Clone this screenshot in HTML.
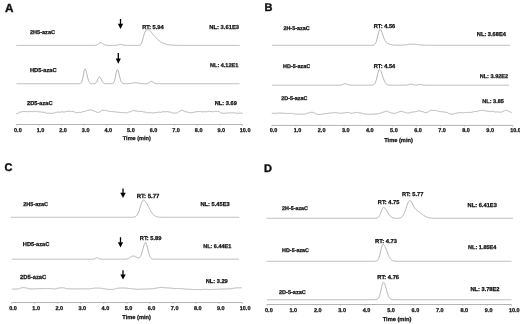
<!DOCTYPE html>
<html><head><meta charset="utf-8"><style>
html,body{margin:0;padding:0;background:#fff;}
svg{display:block;font-family:"Liberation Sans",sans-serif;filter:grayscale(1);text-rendering:geometricPrecision;}
</style></head><body>
<svg width="520" height="324" viewBox="0 0 520 324">
<rect width="520" height="324" fill="#fff"/>
<text x="4.90" y="12.40" font-size="11.75" text-anchor="start" font-weight="bold" fill="#111" stroke="#111" stroke-width="0.4" >A</text>
<text x="30.00" y="34.05" font-size="5.55" text-anchor="start" font-weight="bold" fill="#111" stroke="#111" stroke-width="0.25" >2H5-azaC</text>
<text x="142.20" y="28.80" font-size="5.7" text-anchor="start" font-weight="bold" fill="#111" stroke="#111" stroke-width="0.25" >RT: 5.94</text>
<text x="239.00" y="28.70" font-size="5.8" text-anchor="end" font-weight="bold" fill="#111" stroke="#111" stroke-width="0.25" >NL: 3.61E3</text>
<line x1="120.5" y1="19" x2="120.5" y2="24.3" stroke="#000" stroke-width="1.3"/>
<path d="M117.9,23.8 L123.1,23.8 L120.5,29 Z" fill="#000"/>
<path d="M16.5,45.40 L17.0,45.40 L17.5,45.40 L18.0,45.40 L18.5,45.40 L19.0,45.40 L19.5,45.40 L20.0,45.40 L20.5,45.40 L21.0,45.40 L21.5,45.40 L22.0,45.40 L22.5,45.40 L23.0,45.40 L23.5,45.40 L24.0,45.40 L24.5,45.40 L25.0,45.40 L25.5,45.40 L26.0,45.40 L26.5,45.40 L27.0,45.40 L27.5,45.40 L28.0,45.40 L28.5,45.40 L29.0,45.40 L29.5,45.40 L30.0,45.40 L30.5,45.40 L31.0,45.40 L31.5,45.40 L32.0,45.40 L32.5,45.40 L33.0,45.40 L33.5,45.40 L34.0,45.40 L34.5,45.40 L35.0,45.40 L35.5,45.40 L36.0,45.40 L36.5,45.40 L37.0,45.40 L37.5,45.40 L38.0,45.40 L38.5,45.40 L39.0,45.40 L39.5,45.40 L40.0,45.40 L40.5,45.40 L41.0,45.40 L41.5,45.40 L42.0,45.40 L42.5,45.40 L43.0,45.40 L43.5,45.40 L44.0,45.40 L44.5,45.40 L45.0,45.40 L45.5,45.40 L46.0,45.40 L46.5,45.40 L47.0,45.40 L47.5,45.40 L48.0,45.40 L48.5,45.40 L49.0,45.40 L49.5,45.40 L50.0,45.40 L50.5,45.40 L51.0,45.40 L51.5,45.40 L52.0,45.40 L52.5,45.40 L53.0,45.40 L53.5,45.40 L54.0,45.40 L54.5,45.40 L55.0,45.40 L55.5,45.40 L56.0,45.40 L56.5,45.40 L57.0,45.40 L57.5,45.40 L58.0,45.40 L58.5,45.40 L59.0,45.40 L59.5,45.40 L60.0,45.40 L60.5,45.40 L61.0,45.40 L61.5,45.40 L62.0,45.40 L62.5,45.40 L63.0,45.40 L63.5,45.40 L64.0,45.40 L64.5,45.40 L65.0,45.40 L65.5,45.40 L66.0,45.40 L66.5,45.40 L67.0,45.40 L67.5,45.40 L68.0,45.40 L68.5,45.40 L69.0,45.40 L69.5,45.40 L70.0,45.40 L70.5,45.40 L71.0,45.40 L71.5,45.40 L72.0,45.40 L72.5,45.40 L73.0,45.40 L73.5,45.40 L74.0,45.40 L74.5,45.40 L75.0,45.40 L75.5,45.40 L76.0,45.40 L76.5,45.40 L77.0,45.40 L77.5,45.40 L78.0,45.40 L78.5,45.40 L79.0,45.40 L79.5,45.40 L80.0,45.40 L80.5,45.40 L81.0,45.40 L81.5,45.40 L82.0,45.40 L82.5,45.40 L83.0,45.40 L83.5,45.40 L84.0,45.40 L84.5,45.40 L85.0,45.40 L85.5,45.40 L86.0,45.40 L86.5,45.40 L87.0,45.40 L87.5,45.40 L88.0,45.40 L88.5,45.40 L89.0,45.40 L89.5,45.40 L90.0,45.40 L90.5,45.40 L91.0,45.40 L91.5,45.40 L92.0,45.40 L92.5,45.40 L93.0,45.40 L93.5,45.39 L94.0,45.39 L94.5,45.37 L95.0,45.34 L95.5,45.28 L96.0,45.18 L96.5,45.02 L97.0,44.79 L97.5,44.49 L98.0,44.12 L98.5,43.70 L99.0,43.29 L99.5,42.93 L100.0,42.69 L100.5,42.60 L101.0,42.66 L101.5,42.83 L102.0,43.10 L102.5,43.42 L103.0,43.77 L103.5,44.12 L104.0,44.43 L104.5,44.70 L105.0,44.92 L105.5,45.08 L106.0,45.20 L106.5,45.28 L107.0,45.33 L107.5,45.36 L108.0,45.38 L108.5,45.39 L109.0,45.39 L109.5,45.40 L110.0,45.40 L110.5,45.40 L111.0,45.40 L111.5,45.40 L112.0,45.40 L112.5,45.40 L113.0,45.40 L113.5,45.40 L114.0,45.39 L114.5,45.39 L115.0,45.38 L115.5,45.36 L116.0,45.32 L116.5,45.26 L117.0,45.18 L117.5,45.08 L118.0,44.94 L118.5,44.79 L119.0,44.65 L119.5,44.52 L120.0,44.43 L120.5,44.40 L121.0,44.43 L121.5,44.52 L122.0,44.65 L122.5,44.79 L123.0,44.94 L123.5,45.08 L124.0,45.18 L124.5,45.26 L125.0,45.32 L125.5,45.36 L126.0,45.38 L126.5,45.39 L127.0,45.39 L127.5,45.40 L128.0,45.40 L128.5,45.40 L129.0,45.40 L129.5,45.40 L130.0,45.40 L130.5,45.40 L131.0,45.40 L131.5,45.40 L132.0,45.40 L132.5,45.40 L133.0,45.40 L133.5,45.40 L134.0,45.40 L134.5,45.40 L135.0,45.40 L135.5,45.40 L136.0,45.40 L136.5,45.40 L137.0,45.40 L137.5,45.40 L138.0,45.40 L138.5,45.38 L139.0,45.35 L139.5,45.25 L140.0,45.05 L140.5,44.68 L141.0,44.04 L141.5,43.09 L142.0,41.80 L142.5,40.22 L143.0,38.44 L143.5,36.60 L144.0,34.84 L144.5,33.30 L145.0,32.03 L145.5,31.08 L146.0,30.43 L146.5,30.03 L147.0,29.81 L147.5,29.72 L148.0,29.70 L148.5,29.72 L149.0,29.95 L149.5,30.32 L150.0,30.77 L150.5,31.28 L151.0,31.84 L151.5,32.42 L152.0,33.03 L152.5,33.65 L153.0,34.27 L153.5,34.90 L154.0,35.51 L154.5,36.12 L155.0,36.71 L155.5,37.29 L156.0,37.84 L156.5,38.38 L157.0,38.89 L157.5,39.38 L158.0,39.84 L158.5,40.28 L159.0,40.69 L159.5,41.08 L160.0,41.44 L160.5,41.78 L161.0,42.10 L161.5,42.40 L162.0,42.67 L162.5,42.92 L163.0,43.16 L163.5,43.37 L164.0,43.57 L164.5,43.75 L165.0,43.92 L165.5,44.07 L166.0,44.21 L166.5,44.33 L167.0,44.44 L167.5,44.55 L168.0,44.64 L168.5,44.72 L169.0,44.80 L169.5,44.87 L170.0,44.93 L170.5,44.98 L171.0,45.03 L171.5,45.07 L172.0,45.11 L172.5,45.15 L173.0,45.18 L173.5,45.20 L174.0,45.23 L174.5,45.25 L175.0,45.27 L175.5,45.29 L176.0,45.30 L176.5,45.31 L177.0,45.32 L177.5,45.33 L178.0,45.34 L178.5,45.35 L179.0,45.36 L179.5,45.36 L180.0,45.37 L180.5,45.37 L181.0,45.38 L181.5,45.38 L182.0,45.38 L182.5,45.38 L183.0,45.39 L183.5,45.39 L184.0,45.39 L184.5,45.39 L185.0,45.39 L185.5,45.39 L186.0,45.39 L186.5,45.40 L187.0,45.40 L187.5,45.40 L188.0,45.40 L188.5,45.40 L189.0,45.40 L189.5,45.40 L190.0,45.40 L190.5,45.40 L191.0,45.40 L191.5,45.40 L192.0,45.40 L192.5,45.40 L193.0,45.40 L193.5,45.40 L194.0,45.40 L194.5,45.40 L195.0,45.40 L195.5,45.40 L196.0,45.40 L196.5,45.40 L197.0,45.40 L197.5,45.40 L198.0,45.40 L198.5,45.40 L199.0,45.40 L199.5,45.40 L200.0,45.40 L200.5,45.40 L201.0,45.40 L201.5,45.40 L202.0,45.40 L202.5,45.40 L203.0,45.40 L203.5,45.40 L204.0,45.40 L204.5,45.40 L205.0,45.40 L205.5,45.40 L206.0,45.40 L206.5,45.40 L207.0,45.40 L207.5,45.40 L208.0,45.40 L208.5,45.40 L209.0,45.40 L209.5,45.40 L210.0,45.40 L210.5,45.40 L211.0,45.40 L211.5,45.40 L212.0,45.40 L212.5,45.40 L213.0,45.40 L213.5,45.40 L214.0,45.40 L214.5,45.40 L215.0,45.40 L215.5,45.40 L216.0,45.40 L216.5,45.40 L217.0,45.40 L217.5,45.40 L218.0,45.40 L218.5,45.40 L219.0,45.40 L219.5,45.40 L220.0,45.40 L220.5,45.40 L221.0,45.40 L221.5,45.40 L222.0,45.40 L222.5,45.40 L223.0,45.40 L223.5,45.40 L224.0,45.40 L224.5,45.40 L225.0,45.40 L225.5,45.40 L226.0,45.40 L226.5,45.40 L227.0,45.40 L227.5,45.40 L228.0,45.40 L228.5,45.40 L229.0,45.40 L229.5,45.40 L230.0,45.40 L230.5,45.40 L231.0,45.40 L231.5,45.40 L232.0,45.40 L232.5,45.40 L233.0,45.40 L233.5,45.40 L234.0,45.40 L234.5,45.40 L235.0,45.40 L235.5,45.40 L236.0,45.40 L236.5,45.40 L237.0,45.40 L237.5,45.40 L238.0,45.40 L238.5,45.40 L239.0,45.40 L239.5,45.40" fill="none" stroke="#b4b4b4" stroke-width="1.0" stroke-linejoin="round"/>
<text x="30.00" y="71.80" font-size="5.7" text-anchor="start" font-weight="bold" fill="#111" stroke="#111" stroke-width="0.25" >HD5-azaC</text>
<line x1="118.3" y1="53" x2="118.3" y2="59.099999999999994" stroke="#000" stroke-width="1.3"/>
<path d="M115.7,58.599999999999994 L120.89999999999999,58.599999999999994 L118.3,63.8 Z" fill="#000"/>
<text x="238.20" y="67.00" font-size="5.5" text-anchor="end" font-weight="bold" fill="#111" stroke="#111" stroke-width="0.25" >NL: 4.12E1</text>
<path d="M16.5,83.70 L17.0,83.70 L17.5,83.70 L18.0,83.70 L18.5,83.70 L19.0,83.70 L19.5,83.70 L20.0,83.70 L20.5,83.70 L21.0,83.70 L21.5,83.70 L22.0,83.70 L22.5,83.70 L23.0,83.70 L23.5,83.70 L24.0,83.70 L24.5,83.70 L25.0,83.70 L25.5,83.70 L26.0,83.70 L26.5,83.70 L27.0,83.70 L27.5,83.70 L28.0,83.70 L28.5,83.70 L29.0,83.70 L29.5,83.70 L30.0,83.70 L30.5,83.70 L31.0,83.70 L31.5,83.70 L32.0,83.70 L32.5,83.70 L33.0,83.70 L33.5,83.70 L34.0,83.70 L34.5,83.70 L35.0,83.70 L35.5,83.70 L36.0,83.70 L36.5,83.70 L37.0,83.70 L37.5,83.70 L38.0,83.70 L38.5,83.70 L39.0,83.70 L39.5,83.70 L40.0,83.70 L40.5,83.70 L41.0,83.70 L41.5,83.70 L42.0,83.70 L42.5,83.70 L43.0,83.70 L43.5,83.70 L44.0,83.70 L44.5,83.70 L45.0,83.70 L45.5,83.70 L46.0,83.70 L46.5,83.70 L47.0,83.70 L47.5,83.70 L48.0,83.70 L48.5,83.70 L49.0,83.70 L49.5,83.70 L50.0,83.70 L50.5,83.70 L51.0,83.70 L51.5,83.70 L52.0,83.70 L52.5,83.70 L53.0,83.70 L53.5,83.70 L54.0,83.70 L54.5,83.70 L55.0,83.70 L55.5,83.70 L56.0,83.70 L56.5,83.70 L57.0,83.70 L57.5,83.70 L58.0,83.70 L58.5,83.70 L59.0,83.70 L59.5,83.70 L60.0,83.70 L60.5,83.70 L61.0,83.70 L61.5,83.70 L62.0,83.70 L62.5,83.70 L63.0,83.70 L63.5,83.70 L64.0,83.70 L64.5,83.70 L65.0,83.70 L65.5,83.70 L66.0,83.70 L66.5,83.70 L67.0,83.70 L67.5,83.70 L68.0,83.70 L68.5,83.70 L69.0,83.70 L69.5,83.70 L70.0,83.70 L70.5,83.70 L71.0,83.70 L71.5,83.70 L72.0,83.70 L72.5,83.70 L73.0,83.70 L73.5,83.70 L74.0,83.70 L74.5,83.70 L75.0,83.70 L75.5,83.70 L76.0,83.70 L76.5,83.70 L77.0,83.70 L77.5,83.70 L78.0,83.70 L78.5,83.70 L79.0,83.69 L79.5,83.66 L80.0,83.59 L80.5,83.41 L81.0,83.05 L81.5,82.34 L82.0,81.13 L82.5,79.30 L83.0,76.88 L83.5,74.10 L84.0,71.44 L84.5,69.51 L85.0,68.80 L85.5,69.26 L86.0,70.55 L86.5,72.45 L87.0,74.66 L87.5,76.88 L88.0,78.86 L88.5,80.48 L89.0,81.68 L89.5,82.51 L90.0,83.05 L90.5,83.36 L91.0,83.53 L91.5,83.62 L92.0,83.67 L92.5,83.69 L93.0,83.69 L93.5,83.69 L94.0,83.67 L94.5,83.61 L95.0,83.49 L95.5,83.25 L96.0,82.81 L96.5,82.10 L97.0,81.10 L97.5,79.85 L98.0,78.54 L98.5,77.43 L99.0,76.78 L99.5,76.75 L100.0,77.18 L100.5,77.94 L101.0,78.93 L101.5,79.98 L102.0,80.98 L102.5,81.83 L103.0,82.49 L103.5,82.97 L104.0,83.28 L104.5,83.48 L105.0,83.59 L105.5,83.65 L106.0,83.68 L106.5,83.69 L107.0,83.70 L107.5,83.70 L108.0,83.70 L108.5,83.70 L109.0,83.70 L109.5,83.70 L110.0,83.70 L110.5,83.70 L111.0,83.69 L111.5,83.68 L112.0,83.64 L112.5,83.54 L113.0,83.32 L113.5,82.87 L114.0,82.03 L114.5,80.67 L115.0,78.72 L115.5,76.26 L116.0,73.64 L116.5,71.35 L117.0,69.94 L117.5,69.77 L118.0,70.53 L118.5,72.01 L119.0,73.94 L119.5,76.05 L120.0,78.07 L120.5,79.81 L121.0,81.17 L121.5,82.16 L122.0,82.81 L122.5,83.22 L123.0,83.46 L123.5,83.59 L124.0,83.65 L124.5,83.68 L125.0,83.69 L125.5,83.69 L126.0,83.69 L126.5,83.69 L127.0,83.68 L127.5,83.67 L128.0,83.66 L128.5,83.63 L129.0,83.60 L129.5,83.56 L130.0,83.51 L130.5,83.45 L131.0,83.38 L131.5,83.29 L132.0,83.19 L132.5,83.09 L133.0,82.99 L133.5,82.90 L134.0,82.82 L134.5,82.75 L135.0,82.71 L135.5,82.70 L136.0,82.71 L136.5,82.75 L137.0,82.82 L137.5,82.90 L138.0,82.99 L138.5,83.09 L139.0,83.19 L139.5,83.29 L140.0,83.38 L140.5,83.45 L141.0,83.51 L141.5,83.56 L142.0,83.60 L142.5,83.63 L143.0,83.66 L143.5,83.67 L144.0,83.68 L144.5,83.69 L145.0,83.69 L145.5,83.69 L146.0,83.69 L146.5,83.67 L147.0,83.63 L147.5,83.55 L148.0,83.40 L148.5,83.16 L149.0,82.81 L149.5,82.37 L150.0,81.90 L150.5,81.49 L151.0,81.24 L151.5,81.22 L152.0,81.38 L152.5,81.70 L153.0,82.10 L153.5,82.52 L154.0,82.89 L154.5,83.19 L155.0,83.40 L155.5,83.54 L156.0,83.62 L156.5,83.66 L157.0,83.68 L157.5,83.69 L158.0,83.70 L158.5,83.70 L159.0,83.70 L159.5,83.70 L160.0,83.70 L160.5,83.70 L161.0,83.70 L161.5,83.70 L162.0,83.70 L162.5,83.70 L163.0,83.70 L163.5,83.70 L164.0,83.70 L164.5,83.70 L165.0,83.70 L165.5,83.70 L166.0,83.70 L166.5,83.70 L167.0,83.70 L167.5,83.70 L168.0,83.70 L168.5,83.70 L169.0,83.70 L169.5,83.70 L170.0,83.70 L170.5,83.70 L171.0,83.70 L171.5,83.70 L172.0,83.70 L172.5,83.70 L173.0,83.70 L173.5,83.70 L174.0,83.70 L174.5,83.70 L175.0,83.70 L175.5,83.70 L176.0,83.70 L176.5,83.70 L177.0,83.70 L177.5,83.70 L178.0,83.70 L178.5,83.70 L179.0,83.70 L179.5,83.70 L180.0,83.70 L180.5,83.70 L181.0,83.70 L181.5,83.70 L182.0,83.70 L182.5,83.70 L183.0,83.70 L183.5,83.70 L184.0,83.70 L184.5,83.70 L185.0,83.70 L185.5,83.70 L186.0,83.70 L186.5,83.70 L187.0,83.70 L187.5,83.70 L188.0,83.70 L188.5,83.70 L189.0,83.70 L189.5,83.70 L190.0,83.70 L190.5,83.70 L191.0,83.70 L191.5,83.70 L192.0,83.70 L192.5,83.70 L193.0,83.70 L193.5,83.70 L194.0,83.70 L194.5,83.70 L195.0,83.70 L195.5,83.70 L196.0,83.70 L196.5,83.70 L197.0,83.70 L197.5,83.70 L198.0,83.70 L198.5,83.70 L199.0,83.70 L199.5,83.70 L200.0,83.70 L200.5,83.70 L201.0,83.70 L201.5,83.70 L202.0,83.70 L202.5,83.70 L203.0,83.70 L203.5,83.70 L204.0,83.70 L204.5,83.70 L205.0,83.70 L205.5,83.70 L206.0,83.70 L206.5,83.70 L207.0,83.70 L207.5,83.70 L208.0,83.70 L208.5,83.70 L209.0,83.70 L209.5,83.70 L210.0,83.70 L210.5,83.70 L211.0,83.70 L211.5,83.70 L212.0,83.70 L212.5,83.70 L213.0,83.70 L213.5,83.70 L214.0,83.70 L214.5,83.70 L215.0,83.70 L215.5,83.70 L216.0,83.70 L216.5,83.70 L217.0,83.70 L217.5,83.70 L218.0,83.70 L218.5,83.70 L219.0,83.70 L219.5,83.70 L220.0,83.70 L220.5,83.70 L221.0,83.70 L221.5,83.70 L222.0,83.70 L222.5,83.70 L223.0,83.70 L223.5,83.70 L224.0,83.70 L224.5,83.70 L225.0,83.70 L225.5,83.70 L226.0,83.70 L226.5,83.70 L227.0,83.70 L227.5,83.70 L228.0,83.70 L228.5,83.70 L229.0,83.70 L229.5,83.70 L230.0,83.70 L230.5,83.70 L231.0,83.70 L231.5,83.70 L232.0,83.70 L232.5,83.70 L233.0,83.70 L233.5,83.70 L234.0,83.70 L234.5,83.70 L235.0,83.70 L235.5,83.70 L236.0,83.70 L236.5,83.70 L237.0,83.70 L237.5,83.70 L238.0,83.70 L238.5,83.70 L239.0,83.70 L239.5,83.70" fill="none" stroke="#b4b4b4" stroke-width="1.0" stroke-linejoin="round"/>
<text x="27.00" y="105.00" font-size="5.7" text-anchor="start" font-weight="bold" fill="#111" stroke="#111" stroke-width="0.25" >2D5-azaC</text>
<text x="236.90" y="105.00" font-size="5.7" text-anchor="end" font-weight="bold" fill="#111" stroke="#111" stroke-width="0.25" >NL: 3.69</text>
<path d="M16.3,113.45 L16.8,113.49 L17.3,113.47 L17.8,113.41 L18.3,113.11 L18.8,112.78 L19.3,112.43 L19.8,112.29 L20.3,112.15 L20.8,112.03 L21.3,111.84 L21.8,111.70 L22.3,111.60 L22.8,111.58 L23.3,111.56 L23.8,111.55 L24.3,111.56 L24.8,111.57 L25.3,111.58 L25.8,111.60 L26.3,111.62 L26.8,111.64 L27.3,111.63 L27.8,111.62 L28.3,111.62 L28.8,111.63 L29.3,111.64 L29.8,111.65 L30.3,111.60 L30.8,111.56 L31.3,111.52 L31.8,111.56 L32.3,111.60 L32.8,111.64 L33.3,111.53 L33.8,111.43 L34.3,111.33 L34.8,111.46 L35.3,111.59 L35.8,111.73 L36.3,111.57 L36.8,111.42 L37.3,111.28 L37.8,111.45 L38.3,111.63 L38.8,111.81 L39.3,111.82 L39.8,111.84 L40.3,111.86 L40.8,111.97 L41.3,112.08 L41.8,112.19 L42.3,112.20 L42.8,112.20 L43.3,112.21 L43.8,112.31 L44.3,112.40 L44.8,112.50 L45.3,112.70 L45.8,112.90 L46.3,113.09 L46.8,113.18 L47.3,113.27 L47.8,113.36 L48.3,113.27 L48.8,113.17 L49.3,113.07 L49.8,113.16 L50.3,113.24 L50.8,113.31 L51.3,113.33 L51.8,113.35 L52.3,113.35 L52.8,113.31 L53.3,113.26 L53.8,113.20 L54.3,112.97 L54.8,112.74 L55.3,112.50 L55.8,112.41 L56.3,112.32 L56.8,112.23 L57.3,112.17 L57.8,112.12 L58.3,112.08 L58.8,112.16 L59.3,112.24 L59.8,112.33 L60.3,112.13 L60.8,111.95 L61.3,111.77 L61.8,111.82 L62.3,111.88 L62.8,111.93 L63.3,112.00 L63.8,112.05 L64.3,112.09 L64.8,111.93 L65.3,111.76 L65.8,111.59 L66.3,111.53 L66.8,111.48 L67.3,111.44 L67.8,111.31 L68.3,111.20 L68.8,111.10 L69.3,111.16 L69.8,111.25 L70.3,111.36 L70.8,111.43 L71.3,111.53 L71.8,111.64 L72.3,111.56 L72.8,111.50 L73.3,111.44 L73.8,111.70 L74.3,111.95 L74.8,112.21 L75.3,112.35 L75.8,112.49 L76.3,112.62 L76.8,112.64 L77.3,112.64 L77.8,112.63 L78.3,112.55 L78.8,112.46 L79.3,112.34 L79.8,112.41 L80.3,112.45 L80.8,112.48 L81.3,112.25 L81.8,112.01 L82.3,111.76 L82.8,111.70 L83.3,111.64 L83.8,111.57 L84.3,111.51 L84.8,111.46 L85.3,111.41 L85.8,111.14 L86.3,110.88 L86.8,110.63 L87.3,110.50 L87.8,110.40 L88.3,110.30 L88.8,110.19 L89.3,110.09 L89.8,110.02 L90.3,109.97 L90.8,109.93 L91.3,109.94 L91.8,110.14 L92.3,110.38 L92.8,110.67 L93.3,110.76 L93.8,110.88 L94.3,111.01 L94.8,111.26 L95.3,111.50 L95.8,111.73 L96.3,111.97 L96.8,112.18 L97.3,112.36 L97.8,112.36 L98.3,112.32 L98.8,112.21 L99.3,112.16 L99.8,112.00 L100.3,111.75 L100.8,111.27 L101.3,110.79 L101.8,110.37 L102.3,110.21 L102.8,110.18 L103.3,110.26 L103.8,110.30 L104.3,110.37 L104.8,110.45 L105.3,110.42 L105.8,110.39 L106.3,110.38 L106.8,110.56 L107.3,110.75 L107.8,110.94 L108.3,111.12 L108.8,111.29 L109.3,111.46 L109.8,111.51 L110.3,111.54 L110.8,111.55 L111.3,111.53 L111.8,111.49 L112.3,111.43 L112.8,111.53 L113.3,111.64 L113.8,111.75 L114.3,111.80 L114.8,111.86 L115.3,111.92 L115.8,111.93 L116.3,111.95 L116.8,111.97 L117.3,112.11 L117.8,112.25 L118.3,112.40 L118.8,112.39 L119.3,112.38 L119.8,112.37 L120.3,112.49 L120.8,112.62 L121.3,112.74 L121.8,112.64 L122.3,112.54 L122.8,112.43 L123.3,112.47 L123.8,112.50 L124.3,112.53 L124.8,112.69 L125.3,112.84 L125.8,112.98 L126.3,112.90 L126.8,112.79 L127.3,112.62 L127.8,112.45 L128.3,112.24 L128.8,112.00 L129.3,111.93 L129.8,111.85 L130.3,111.76 L130.8,111.42 L131.3,111.09 L131.8,110.78 L132.3,110.70 L132.8,110.67 L133.3,110.67 L133.8,110.65 L134.3,110.65 L134.8,110.69 L135.3,110.79 L135.8,110.91 L136.3,111.05 L136.8,111.11 L137.3,111.17 L137.8,111.22 L138.3,111.34 L138.8,111.44 L139.3,111.52 L139.8,111.47 L140.3,111.39 L140.8,111.33 L141.3,111.34 L141.8,111.37 L142.3,111.41 L142.8,111.61 L143.3,111.81 L143.8,112.02 L144.3,112.02 L144.8,112.03 L145.3,112.04 L145.8,112.25 L146.3,112.45 L146.8,112.66 L147.3,112.69 L147.8,112.71 L148.3,112.72 L148.8,112.77 L149.3,112.82 L149.8,112.84 L150.3,112.76 L150.8,112.67 L151.3,112.57 L151.8,112.73 L152.3,112.88 L152.8,113.03 L153.3,112.91 L153.8,112.79 L154.3,112.66 L154.8,112.65 L155.3,112.64 L155.8,112.63 L156.3,112.55 L156.8,112.47 L157.3,112.39 L157.8,112.31 L158.3,112.22 L158.8,112.14 L159.3,112.22 L159.8,112.30 L160.3,112.39 L160.8,112.27 L161.3,112.16 L161.8,112.04 L162.3,111.88 L162.8,111.73 L163.3,111.58 L163.8,111.66 L164.3,111.75 L164.8,111.85 L165.3,111.77 L165.8,111.69 L166.3,111.61 L166.8,111.64 L167.3,111.68 L167.8,111.72 L168.3,111.81 L168.8,111.93 L169.3,112.09 L169.8,112.08 L170.3,112.10 L170.8,112.14 L171.3,112.40 L171.8,112.66 L172.3,112.92 L172.8,113.00 L173.3,113.07 L173.8,113.12 L174.3,113.08 L174.8,113.01 L175.3,112.91 L175.8,113.06 L176.3,113.13 L176.8,113.12 L177.3,112.81 L177.8,112.46 L178.3,112.07 L178.8,111.78 L179.3,111.51 L179.8,111.28 L180.3,110.88 L180.8,110.56 L181.3,110.31 L181.8,110.30 L182.3,110.34 L182.8,110.42 L183.3,110.70 L183.8,111.01 L184.3,111.34 L184.8,111.49 L185.3,111.64 L185.8,111.80 L186.3,111.87 L186.8,111.92 L187.3,111.95 L187.8,112.22 L188.3,112.45 L188.8,112.64 L189.3,112.65 L189.8,112.65 L190.3,112.64 L190.8,112.65 L191.3,112.66 L191.8,112.67 L192.3,112.59 L192.8,112.51 L193.3,112.43 L193.8,112.26 L194.3,112.10 L194.8,111.93 L195.3,111.86 L195.8,111.79 L196.3,111.72 L196.8,111.67 L197.3,111.62 L197.8,111.58 L198.3,111.54 L198.8,111.51 L199.3,111.48 L199.8,111.50 L200.3,111.52 L200.8,111.55 L201.3,111.67 L201.8,111.79 L202.3,111.91 L202.8,111.84 L203.3,111.76 L203.8,111.69 L204.3,111.67 L204.8,111.66 L205.3,111.64 L205.8,111.68 L206.3,111.72 L206.8,111.76 L207.3,111.60 L207.8,111.44 L208.3,111.29 L208.8,111.31 L209.3,111.34 L209.8,111.37 L210.3,111.43 L210.8,111.49 L211.3,111.55 L211.8,111.63 L212.3,111.70 L212.8,111.78 L213.3,111.70 L213.8,111.62 L214.3,111.54 L214.8,111.43 L215.3,111.32 L215.8,111.21 L216.3,111.37 L216.8,111.52 L217.3,111.68 L217.8,111.57 L218.3,111.45 L218.8,111.41 L219.3,111.71 L219.8,112.11 L220.3,112.55 L220.8,112.78 L221.3,112.95 L221.8,113.01 L222.3,113.13 L222.8,113.22 L223.3,113.32 L223.8,113.29 L224.3,113.27 L224.8,113.25 L225.3,113.21 L225.8,113.17 L226.3,113.13 L226.8,113.05 L227.3,112.97 L227.8,112.88 L228.3,112.87 L228.8,112.85 L229.3,112.84 L229.8,112.85 L230.3,112.86 L230.8,112.87 L231.3,112.86 L231.8,112.84 L232.3,112.83 L232.8,112.84 L233.3,112.85 L233.8,112.86 L234.3,112.89 L234.8,112.92 L235.3,112.96 L235.8,113.07 L236.3,113.19 L236.8,113.31 L237.3,113.30 L237.8,113.29 L238.3,113.29 L238.8,113.20 L239.3,113.12 L239.8,113.03 L240.3,113.07 L240.8,113.10 L241.3,113.12 L241.8,113.31 L242.3,113.50 L242.8,113.68" fill="none" stroke="#b4b4b4" stroke-width="1.0" stroke-linejoin="round"/>
<line x1="16.3" y1="124.5" x2="242.3" y2="124.5" stroke="#b4b4b4" stroke-width="1.0"/>
<line x1="16.30" y1="124.5" x2="16.30" y2="125.7" stroke="#b4b4b4" stroke-width="0.9"/>
<text x="14.05" y="131.70" font-size="5.5" text-anchor="start" font-weight="bold" fill="#111" stroke="#111" stroke-width="0.25" >0.0</text>
<line x1="38.90" y1="124.5" x2="38.90" y2="125.7" stroke="#b4b4b4" stroke-width="0.9"/>
<text x="36.65" y="131.70" font-size="5.5" text-anchor="start" font-weight="bold" fill="#111" stroke="#111" stroke-width="0.25" >1.0</text>
<line x1="61.50" y1="124.5" x2="61.50" y2="125.7" stroke="#b4b4b4" stroke-width="0.9"/>
<text x="59.25" y="131.70" font-size="5.5" text-anchor="start" font-weight="bold" fill="#111" stroke="#111" stroke-width="0.25" >2.0</text>
<line x1="84.10" y1="124.5" x2="84.10" y2="125.7" stroke="#b4b4b4" stroke-width="0.9"/>
<text x="81.85" y="131.70" font-size="5.5" text-anchor="start" font-weight="bold" fill="#111" stroke="#111" stroke-width="0.25" >3.0</text>
<line x1="106.70" y1="124.5" x2="106.70" y2="125.7" stroke="#b4b4b4" stroke-width="0.9"/>
<text x="104.45" y="131.70" font-size="5.5" text-anchor="start" font-weight="bold" fill="#111" stroke="#111" stroke-width="0.25" >4.0</text>
<line x1="129.30" y1="124.5" x2="129.30" y2="125.7" stroke="#b4b4b4" stroke-width="0.9"/>
<text x="127.05" y="131.70" font-size="5.5" text-anchor="start" font-weight="bold" fill="#111" stroke="#111" stroke-width="0.25" >5.0</text>
<line x1="151.90" y1="124.5" x2="151.90" y2="125.7" stroke="#b4b4b4" stroke-width="0.9"/>
<text x="149.65" y="131.70" font-size="5.5" text-anchor="start" font-weight="bold" fill="#111" stroke="#111" stroke-width="0.25" >6.0</text>
<line x1="174.50" y1="124.5" x2="174.50" y2="125.7" stroke="#b4b4b4" stroke-width="0.9"/>
<text x="172.25" y="131.70" font-size="5.5" text-anchor="start" font-weight="bold" fill="#111" stroke="#111" stroke-width="0.25" >7.0</text>
<line x1="197.10" y1="124.5" x2="197.10" y2="125.7" stroke="#b4b4b4" stroke-width="0.9"/>
<text x="194.85" y="131.70" font-size="5.5" text-anchor="start" font-weight="bold" fill="#111" stroke="#111" stroke-width="0.25" >8.0</text>
<line x1="219.70" y1="124.5" x2="219.70" y2="125.7" stroke="#b4b4b4" stroke-width="0.9"/>
<text x="217.45" y="131.70" font-size="5.5" text-anchor="start" font-weight="bold" fill="#111" stroke="#111" stroke-width="0.25" >9.0</text>
<line x1="242.30" y1="124.5" x2="242.30" y2="125.7" stroke="#b4b4b4" stroke-width="0.9"/>
<text x="239.75" y="131.70" font-size="5.5" text-anchor="start" font-weight="bold" fill="#111" stroke="#111" stroke-width="0.25" >10.0</text>
<text x="122.80" y="140.20" font-size="5.55" text-anchor="start" font-weight="bold" fill="#111" stroke="#111" stroke-width="0.25" >Time (min)</text>
<text x="264.60" y="10.80" font-size="11" text-anchor="start" font-weight="bold" fill="#111" stroke="#111" stroke-width="0.4" >B</text>
<text x="283.40" y="30.10" font-size="5.45" text-anchor="start" font-weight="bold" fill="#111" stroke="#111" stroke-width="0.25" >2H-5-azaC</text>
<text x="373.75" y="27.50" font-size="5.7" text-anchor="start" font-weight="bold" fill="#111" stroke="#111" stroke-width="0.25" >RT: 4.56</text>
<text x="505.90" y="35.60" font-size="5.7" text-anchor="end" font-weight="bold" fill="#111" stroke="#111" stroke-width="0.25" >NL: 3.68E4</text>
<path d="M272.0,45.30 L272.5,45.30 L273.0,45.30 L273.5,45.30 L274.0,45.30 L274.5,45.30 L275.0,45.30 L275.5,45.30 L276.0,45.30 L276.5,45.30 L277.0,45.30 L277.5,45.30 L278.0,45.30 L278.5,45.30 L279.0,45.30 L279.5,45.30 L280.0,45.30 L280.5,45.30 L281.0,45.30 L281.5,45.30 L282.0,45.30 L282.5,45.30 L283.0,45.30 L283.5,45.30 L284.0,45.30 L284.5,45.30 L285.0,45.30 L285.5,45.30 L286.0,45.30 L286.5,45.30 L287.0,45.30 L287.5,45.30 L288.0,45.30 L288.5,45.30 L289.0,45.30 L289.5,45.30 L290.0,45.30 L290.5,45.30 L291.0,45.30 L291.5,45.30 L292.0,45.30 L292.5,45.30 L293.0,45.30 L293.5,45.30 L294.0,45.30 L294.5,45.30 L295.0,45.30 L295.5,45.30 L296.0,45.30 L296.5,45.30 L297.0,45.30 L297.5,45.30 L298.0,45.30 L298.5,45.30 L299.0,45.30 L299.5,45.30 L300.0,45.30 L300.5,45.30 L301.0,45.30 L301.5,45.30 L302.0,45.30 L302.5,45.30 L303.0,45.30 L303.5,45.30 L304.0,45.30 L304.5,45.30 L305.0,45.30 L305.5,45.30 L306.0,45.30 L306.5,45.30 L307.0,45.30 L307.5,45.30 L308.0,45.30 L308.5,45.30 L309.0,45.30 L309.5,45.30 L310.0,45.30 L310.5,45.30 L311.0,45.30 L311.5,45.30 L312.0,45.30 L312.5,45.30 L313.0,45.30 L313.5,45.30 L314.0,45.30 L314.5,45.30 L315.0,45.30 L315.5,45.30 L316.0,45.30 L316.5,45.30 L317.0,45.30 L317.5,45.30 L318.0,45.30 L318.5,45.30 L319.0,45.30 L319.5,45.30 L320.0,45.30 L320.5,45.30 L321.0,45.30 L321.5,45.30 L322.0,45.30 L322.5,45.30 L323.0,45.30 L323.5,45.30 L324.0,45.30 L324.5,45.30 L325.0,45.30 L325.5,45.30 L326.0,45.30 L326.5,45.30 L327.0,45.30 L327.5,45.30 L328.0,45.30 L328.5,45.30 L329.0,45.30 L329.5,45.30 L330.0,45.30 L330.5,45.30 L331.0,45.30 L331.5,45.30 L332.0,45.30 L332.5,45.30 L333.0,45.30 L333.5,45.30 L334.0,45.30 L334.5,45.30 L335.0,45.30 L335.5,45.30 L336.0,45.30 L336.5,45.30 L337.0,45.30 L337.5,45.30 L338.0,45.30 L338.5,45.30 L339.0,45.30 L339.5,45.30 L340.0,45.30 L340.5,45.30 L341.0,45.30 L341.5,45.30 L342.0,45.30 L342.5,45.30 L343.0,45.30 L343.5,45.30 L344.0,45.30 L344.5,45.30 L345.0,45.30 L345.5,45.30 L346.0,45.30 L346.5,45.30 L347.0,45.30 L347.5,45.30 L348.0,45.30 L348.5,45.30 L349.0,45.30 L349.5,45.30 L350.0,45.30 L350.5,45.30 L351.0,45.30 L351.5,45.30 L352.0,45.30 L352.5,45.30 L353.0,45.30 L353.5,45.30 L354.0,45.30 L354.5,45.30 L355.0,45.30 L355.5,45.30 L356.0,45.30 L356.5,45.30 L357.0,45.30 L357.5,45.30 L358.0,45.30 L358.5,45.30 L359.0,45.30 L359.5,45.30 L360.0,45.30 L360.5,45.30 L361.0,45.30 L361.5,45.30 L362.0,45.30 L362.5,45.30 L363.0,45.30 L363.5,45.30 L364.0,45.30 L364.5,45.30 L365.0,45.30 L365.5,45.30 L366.0,45.30 L366.5,45.30 L367.0,45.30 L367.5,45.30 L368.0,45.30 L368.5,45.30 L369.0,45.30 L369.5,45.30 L370.0,45.30 L370.5,45.30 L371.0,45.30 L371.5,45.29 L372.0,45.28 L372.5,45.25 L373.0,45.20 L373.5,45.10 L374.0,44.92 L374.5,44.61 L375.0,44.12 L375.5,43.37 L376.0,42.31 L376.5,40.89 L377.0,39.13 L377.5,37.09 L378.0,34.93 L378.5,32.87 L379.0,31.13 L379.5,29.94 L380.0,29.48 L380.5,29.65 L381.0,30.26 L381.5,31.27 L382.0,32.55 L382.5,34.02 L383.0,35.54 L383.5,37.03 L384.0,38.40 L384.5,39.60 L385.0,40.62 L385.5,41.46 L386.0,42.13 L386.5,42.66 L387.0,43.06 L387.5,43.38 L388.0,43.62 L388.5,43.83 L389.0,44.00 L389.5,44.16 L390.0,44.30 L390.5,44.44 L391.0,44.56 L391.5,44.67 L392.0,44.78 L392.5,44.87 L393.0,44.95 L393.5,45.02 L394.0,45.08 L394.5,45.13 L395.0,45.17 L395.5,45.20 L396.0,45.22 L396.5,45.24 L397.0,45.25 L397.5,45.26 L398.0,45.26 L398.5,45.26 L399.0,45.25 L399.5,45.25 L400.0,45.23 L400.5,45.22 L401.0,45.20 L401.5,45.18 L402.0,45.15 L402.5,45.12 L403.0,45.08 L403.5,45.04 L404.0,44.99 L404.5,44.94 L405.0,44.89 L405.5,44.83 L406.0,44.76 L406.5,44.70 L407.0,44.63 L407.5,44.57 L408.0,44.50 L408.5,44.44 L409.0,44.38 L409.5,44.33 L410.0,44.28 L410.5,44.25 L411.0,44.22 L411.5,44.21 L412.0,44.20 L412.5,44.20 L413.0,44.22 L413.5,44.23 L414.0,44.26 L414.5,44.29 L415.0,44.33 L415.5,44.37 L416.0,44.42 L416.5,44.47 L417.0,44.52 L417.5,44.58 L418.0,44.63 L418.5,44.69 L419.0,44.74 L419.5,44.80 L420.0,44.85 L420.5,44.90 L421.0,44.94 L421.5,44.99 L422.0,45.03 L422.5,45.06 L423.0,45.10 L423.5,45.12 L424.0,45.15 L424.5,45.17 L425.0,45.19 L425.5,45.21 L426.0,45.23 L426.5,45.24 L427.0,45.25 L427.5,45.26 L428.0,45.27 L428.5,45.27 L429.0,45.28 L429.5,45.28 L430.0,45.29 L430.5,45.29 L431.0,45.29 L431.5,45.29 L432.0,45.30 L432.5,45.30 L433.0,45.30 L433.5,45.30 L434.0,45.30 L434.5,45.30 L435.0,45.30 L435.5,45.30 L436.0,45.30 L436.5,45.30 L437.0,45.30 L437.5,45.30 L438.0,45.30 L438.5,45.30 L439.0,45.30 L439.5,45.30 L440.0,45.30 L440.5,45.30 L441.0,45.30 L441.5,45.30 L442.0,45.30 L442.5,45.30 L443.0,45.30 L443.5,45.30 L444.0,45.30 L444.5,45.30 L445.0,45.30 L445.5,45.30 L446.0,45.30 L446.5,45.30 L447.0,45.30 L447.5,45.30 L448.0,45.30 L448.5,45.30 L449.0,45.30 L449.5,45.30 L450.0,45.30 L450.5,45.30 L451.0,45.30 L451.5,45.30 L452.0,45.30 L452.5,45.30 L453.0,45.30 L453.5,45.30 L454.0,45.30 L454.5,45.30 L455.0,45.30 L455.5,45.30 L456.0,45.30 L456.5,45.30 L457.0,45.30 L457.5,45.30 L458.0,45.30 L458.5,45.30 L459.0,45.30 L459.5,45.30 L460.0,45.30 L460.5,45.30 L461.0,45.30 L461.5,45.30 L462.0,45.30 L462.5,45.30 L463.0,45.30 L463.5,45.30 L464.0,45.30 L464.5,45.30 L465.0,45.30 L465.5,45.30 L466.0,45.30 L466.5,45.30 L467.0,45.30 L467.5,45.30 L468.0,45.30 L468.5,45.30 L469.0,45.30 L469.5,45.30 L470.0,45.30 L470.5,45.30 L471.0,45.30 L471.5,45.30 L472.0,45.30 L472.5,45.30 L473.0,45.30 L473.5,45.30 L474.0,45.30 L474.5,45.30 L475.0,45.30 L475.5,45.30 L476.0,45.30 L476.5,45.30 L477.0,45.30 L477.5,45.30 L478.0,45.30 L478.5,45.30 L479.0,45.30 L479.5,45.30 L480.0,45.30 L480.5,45.30 L481.0,45.30 L481.5,45.30 L482.0,45.30 L482.5,45.30 L483.0,45.30 L483.5,45.30 L484.0,45.30 L484.5,45.30 L485.0,45.30 L485.5,45.30 L486.0,45.30 L486.5,45.30 L487.0,45.30 L487.5,45.30 L488.0,45.30 L488.5,45.30 L489.0,45.30 L489.5,45.30 L490.0,45.30 L490.5,45.30 L491.0,45.30 L491.5,45.30 L492.0,45.30 L492.5,45.30 L493.0,45.30 L493.5,45.30 L494.0,45.30 L494.5,45.30 L495.0,45.30 L495.5,45.30 L496.0,45.30 L496.5,45.30 L497.0,45.30 L497.5,45.30 L498.0,45.30 L498.5,45.30 L499.0,45.30 L499.5,45.30 L500.0,45.30 L500.5,45.30 L501.0,45.30 L501.5,45.30 L502.0,45.30 L502.5,45.30 L503.0,45.30 L503.5,45.30 L504.0,45.30 L504.5,45.30 L505.0,45.30 L505.5,45.30 L506.0,45.30 L506.5,45.30 L507.0,45.30 L507.5,45.30 L508.0,45.30 L508.5,45.30 L509.0,45.30 L509.5,45.30 L510.0,45.30" fill="none" stroke="#b4b4b4" stroke-width="1.0" stroke-linejoin="round"/>
<text x="283.10" y="67.60" font-size="5.45" text-anchor="start" font-weight="bold" fill="#111" stroke="#111" stroke-width="0.25" >HD-5-azaC</text>
<text x="373.75" y="67.50" font-size="5.7" text-anchor="start" font-weight="bold" fill="#111" stroke="#111" stroke-width="0.25" >RT: 4.54</text>
<text x="508.10" y="78.30" font-size="5.55" text-anchor="end" font-weight="bold" fill="#111" stroke="#111" stroke-width="0.25" >NL: 3.92E2</text>
<path d="M272.0,85.20 L272.5,85.20 L273.0,85.20 L273.5,85.20 L274.0,85.20 L274.5,85.20 L275.0,85.20 L275.5,85.20 L276.0,85.20 L276.5,85.20 L277.0,85.20 L277.5,85.20 L278.0,85.20 L278.5,85.20 L279.0,85.20 L279.5,85.20 L280.0,85.20 L280.5,85.20 L281.0,85.20 L281.5,85.20 L282.0,85.20 L282.5,85.20 L283.0,85.20 L283.5,85.20 L284.0,85.20 L284.5,85.20 L285.0,85.20 L285.5,85.20 L286.0,85.20 L286.5,85.20 L287.0,85.20 L287.5,85.20 L288.0,85.20 L288.5,85.20 L289.0,85.20 L289.5,85.20 L290.0,85.20 L290.5,85.20 L291.0,85.20 L291.5,85.20 L292.0,85.20 L292.5,85.20 L293.0,85.20 L293.5,85.20 L294.0,85.20 L294.5,85.20 L295.0,85.20 L295.5,85.20 L296.0,85.20 L296.5,85.20 L297.0,85.20 L297.5,85.20 L298.0,85.20 L298.5,85.20 L299.0,85.20 L299.5,85.20 L300.0,85.20 L300.5,85.20 L301.0,85.20 L301.5,85.20 L302.0,85.20 L302.5,85.20 L303.0,85.20 L303.5,85.20 L304.0,85.20 L304.5,85.20 L305.0,85.20 L305.5,85.20 L306.0,85.20 L306.5,85.20 L307.0,85.20 L307.5,85.20 L308.0,85.20 L308.5,85.20 L309.0,85.20 L309.5,85.20 L310.0,85.20 L310.5,85.20 L311.0,85.20 L311.5,85.20 L312.0,85.20 L312.5,85.20 L313.0,85.20 L313.5,85.20 L314.0,85.20 L314.5,85.20 L315.0,85.20 L315.5,85.20 L316.0,85.20 L316.5,85.20 L317.0,85.20 L317.5,85.20 L318.0,85.20 L318.5,85.20 L319.0,85.20 L319.5,85.20 L320.0,85.20 L320.5,85.20 L321.0,85.20 L321.5,85.20 L322.0,85.20 L322.5,85.20 L323.0,85.20 L323.5,85.20 L324.0,85.20 L324.5,85.20 L325.0,85.20 L325.5,85.20 L326.0,85.20 L326.5,85.20 L327.0,85.20 L327.5,85.20 L328.0,85.20 L328.5,85.20 L329.0,85.20 L329.5,85.20 L330.0,85.20 L330.5,85.20 L331.0,85.20 L331.5,85.20 L332.0,85.20 L332.5,85.20 L333.0,85.20 L333.5,85.20 L334.0,85.20 L334.5,85.20 L335.0,85.20 L335.5,85.20 L336.0,85.20 L336.5,85.20 L337.0,85.20 L337.5,85.20 L338.0,85.20 L338.5,85.20 L339.0,85.19 L339.5,85.19 L340.0,85.17 L340.5,85.13 L341.0,85.07 L341.5,84.97 L342.0,84.83 L342.5,84.63 L343.0,84.39 L343.5,84.14 L344.0,83.91 L344.5,83.76 L345.0,83.70 L345.5,83.74 L346.0,83.85 L346.5,84.01 L347.0,84.21 L347.5,84.41 L348.0,84.61 L348.5,84.78 L349.0,84.91 L349.5,85.01 L350.0,85.09 L350.5,85.13 L351.0,85.16 L351.5,85.18 L352.0,85.19 L352.5,85.20 L353.0,85.20 L353.5,85.20 L354.0,85.20 L354.5,85.20 L355.0,85.20 L355.5,85.20 L356.0,85.20 L356.5,85.20 L357.0,85.20 L357.5,85.20 L358.0,85.20 L358.5,85.20 L359.0,85.20 L359.5,85.20 L360.0,85.20 L360.5,85.20 L361.0,85.20 L361.5,85.20 L362.0,85.20 L362.5,85.20 L363.0,85.20 L363.5,85.20 L364.0,85.20 L364.5,85.20 L365.0,85.20 L365.5,85.20 L366.0,85.20 L366.5,85.20 L367.0,85.20 L367.5,85.20 L368.0,85.20 L368.5,85.20 L369.0,85.20 L369.5,85.20 L370.0,85.20 L370.5,85.20 L371.0,85.19 L371.5,85.18 L372.0,85.15 L372.5,85.10 L373.0,85.00 L373.5,84.82 L374.0,84.51 L374.5,84.01 L375.0,83.26 L375.5,82.19 L376.0,80.77 L376.5,79.00 L377.0,76.97 L377.5,74.81 L378.0,72.76 L378.5,71.04 L379.0,69.90 L379.5,69.50 L380.0,69.72 L380.5,70.35 L381.0,71.34 L381.5,72.63 L382.0,74.11 L382.5,75.68 L383.0,77.25 L383.5,78.75 L384.0,80.10 L384.5,81.29 L385.0,82.28 L385.5,83.08 L386.0,83.70 L386.5,84.17 L387.0,84.51 L387.5,84.75 L388.0,84.92 L388.5,85.03 L389.0,85.10 L389.5,85.14 L390.0,85.17 L390.5,85.18 L391.0,85.19 L391.5,85.19 L392.0,85.20 L392.5,85.20 L393.0,85.20 L393.5,85.20 L394.0,85.20 L394.5,85.20 L395.0,85.20 L395.5,85.20 L396.0,85.20 L396.5,85.20 L397.0,85.20 L397.5,85.20 L398.0,85.20 L398.5,85.20 L399.0,85.20 L399.5,85.20 L400.0,85.20 L400.5,85.20 L401.0,85.20 L401.5,85.20 L402.0,85.20 L402.5,85.20 L403.0,85.20 L403.5,85.20 L404.0,85.20 L404.5,85.19 L405.0,85.19 L405.5,85.18 L406.0,85.16 L406.5,85.12 L407.0,85.06 L407.5,84.98 L408.0,84.88 L408.5,84.74 L409.0,84.59 L409.5,84.45 L410.0,84.32 L410.5,84.23 L411.0,84.20 L411.5,84.23 L412.0,84.32 L412.5,84.44 L413.0,84.59 L413.5,84.74 L414.0,84.87 L414.5,84.97 L415.0,85.03 L415.5,85.06 L416.0,85.05 L416.5,85.00 L417.0,84.93 L417.5,84.83 L418.0,84.71 L418.5,84.60 L419.0,84.49 L419.5,84.42 L420.0,84.40 L420.5,84.42 L421.0,84.49 L421.5,84.60 L422.0,84.71 L422.5,84.83 L423.0,84.94 L423.5,85.03 L424.0,85.09 L424.5,85.14 L425.0,85.16 L425.5,85.18 L426.0,85.19 L426.5,85.20 L427.0,85.20 L427.5,85.20 L428.0,85.20 L428.5,85.20 L429.0,85.20 L429.5,85.20 L430.0,85.20 L430.5,85.20 L431.0,85.20 L431.5,85.20 L432.0,85.20 L432.5,85.20 L433.0,85.20 L433.5,85.20 L434.0,85.20 L434.5,85.20 L435.0,85.20 L435.5,85.20 L436.0,85.20 L436.5,85.20 L437.0,85.20 L437.5,85.20 L438.0,85.20 L438.5,85.20 L439.0,85.20 L439.5,85.20 L440.0,85.20 L440.5,85.20 L441.0,85.20 L441.5,85.20 L442.0,85.20 L442.5,85.20 L443.0,85.20 L443.5,85.20 L444.0,85.20 L444.5,85.20 L445.0,85.20 L445.5,85.20 L446.0,85.20 L446.5,85.20 L447.0,85.20 L447.5,85.20 L448.0,85.20 L448.5,85.20 L449.0,85.20 L449.5,85.20 L450.0,85.20 L450.5,85.20 L451.0,85.20 L451.5,85.20 L452.0,85.20 L452.5,85.20 L453.0,85.20 L453.5,85.20 L454.0,85.20 L454.5,85.20 L455.0,85.20 L455.5,85.20 L456.0,85.20 L456.5,85.20 L457.0,85.20 L457.5,85.20 L458.0,85.20 L458.5,85.20 L459.0,85.20 L459.5,85.20 L460.0,85.20 L460.5,85.20 L461.0,85.20 L461.5,85.20 L462.0,85.20 L462.5,85.20 L463.0,85.20 L463.5,85.20 L464.0,85.20 L464.5,85.20 L465.0,85.20 L465.5,85.20 L466.0,85.20 L466.5,85.20 L467.0,85.20 L467.5,85.20 L468.0,85.20 L468.5,85.20 L469.0,85.20 L469.5,85.20 L470.0,85.20 L470.5,85.20 L471.0,85.20 L471.5,85.20 L472.0,85.20 L472.5,85.20 L473.0,85.20 L473.5,85.20 L474.0,85.20 L474.5,85.20 L475.0,85.20 L475.5,85.20 L476.0,85.20 L476.5,85.20 L477.0,85.20 L477.5,85.20 L478.0,85.20 L478.5,85.20 L479.0,85.20 L479.5,85.20 L480.0,85.20 L480.5,85.20 L481.0,85.20 L481.5,85.20 L482.0,85.20 L482.5,85.20 L483.0,85.20 L483.5,85.20 L484.0,85.20 L484.5,85.20 L485.0,85.20 L485.5,85.20 L486.0,85.20 L486.5,85.20 L487.0,85.20 L487.5,85.20 L488.0,85.20 L488.5,85.20 L489.0,85.20 L489.5,85.20 L490.0,85.20 L490.5,85.20 L491.0,85.20 L491.5,85.20 L492.0,85.20 L492.5,85.20 L493.0,85.20 L493.5,85.20 L494.0,85.20 L494.5,85.20 L495.0,85.20 L495.5,85.20 L496.0,85.20 L496.5,85.20 L497.0,85.20 L497.5,85.20 L498.0,85.20 L498.5,85.20 L499.0,85.20 L499.5,85.20 L500.0,85.20 L500.5,85.20 L501.0,85.20 L501.5,85.20 L502.0,85.20 L502.5,85.20 L503.0,85.20 L503.5,85.20 L504.0,85.20 L504.5,85.20 L505.0,85.20 L505.5,85.20 L506.0,85.20 L506.5,85.20 L507.0,85.20 L507.5,85.20 L508.0,85.20 L508.5,85.20 L509.0,85.20" fill="none" stroke="#b4b4b4" stroke-width="1.0" stroke-linejoin="round"/>
<text x="281.20" y="99.70" font-size="5.45" text-anchor="start" font-weight="bold" fill="#111" stroke="#111" stroke-width="0.25" >2D-5-azaC</text>
<text x="503.90" y="102.50" font-size="5.55" text-anchor="end" font-weight="bold" fill="#111" stroke="#111" stroke-width="0.25" >NL: 3.85</text>
<path d="M271.8,113.46 L272.3,113.38 L272.8,113.29 L273.3,113.19 L273.8,113.28 L274.3,113.37 L274.8,113.45 L275.3,113.40 L275.8,113.35 L276.3,113.30 L276.8,113.27 L277.3,113.24 L277.8,113.21 L278.3,113.17 L278.8,113.14 L279.3,113.11 L279.8,113.08 L280.3,113.05 L280.8,113.03 L281.3,113.12 L281.8,113.22 L282.3,113.32 L282.8,113.28 L283.3,113.24 L283.8,113.21 L284.3,113.23 L284.8,113.26 L285.3,113.28 L285.8,113.37 L286.3,113.47 L286.8,113.56 L287.3,113.55 L287.8,113.54 L288.3,113.52 L288.8,113.44 L289.3,113.37 L289.8,113.31 L290.3,113.40 L290.8,113.50 L291.3,113.60 L291.8,113.56 L292.3,113.52 L292.8,113.49 L293.3,113.64 L293.8,113.80 L294.3,113.96 L294.8,114.01 L295.3,114.07 L295.8,114.12 L296.3,114.09 L296.8,114.06 L297.3,114.02 L297.8,114.13 L298.3,114.24 L298.8,114.34 L299.3,114.22 L299.8,114.10 L300.3,113.97 L300.8,114.08 L301.3,114.18 L301.8,114.28 L302.3,114.21 L302.8,114.12 L303.3,114.04 L303.8,114.10 L304.3,114.13 L304.8,114.14 L305.3,113.97 L305.8,113.79 L306.3,113.58 L306.8,113.43 L307.3,113.27 L307.8,113.11 L308.3,113.04 L308.8,112.97 L309.3,112.92 L309.8,112.72 L310.3,112.55 L310.8,112.40 L311.3,112.33 L311.8,112.29 L312.3,112.29 L312.8,112.39 L313.3,112.54 L313.8,112.73 L314.3,112.95 L314.8,113.20 L315.3,113.46 L315.8,113.72 L316.3,113.96 L316.8,114.19 L317.3,114.30 L317.8,114.37 L318.3,114.39 L318.8,114.51 L319.3,114.59 L319.8,114.64 L320.3,114.55 L320.8,114.45 L321.3,114.33 L321.8,114.23 L322.3,114.13 L322.8,114.02 L323.3,113.89 L323.8,113.76 L324.3,113.64 L324.8,113.64 L325.3,113.66 L325.8,113.70 L326.3,113.64 L326.8,113.59 L327.3,113.52 L327.8,113.40 L328.3,113.25 L328.8,113.09 L329.3,113.11 L329.8,113.12 L330.3,113.13 L330.8,113.08 L331.3,113.04 L331.8,113.00 L332.3,112.83 L332.8,112.67 L333.3,112.53 L333.8,112.58 L334.3,112.66 L334.8,112.75 L335.3,112.69 L335.8,112.64 L336.3,112.62 L336.8,112.76 L337.3,112.91 L337.8,113.05 L338.3,113.12 L338.8,113.17 L339.3,113.20 L339.8,113.25 L340.3,113.26 L340.8,113.25 L341.3,113.27 L341.8,113.28 L342.3,113.26 L342.8,113.11 L343.3,112.96 L343.8,112.81 L344.3,112.79 L344.8,112.79 L345.3,112.82 L345.8,112.70 L346.3,112.61 L346.8,112.54 L347.3,112.49 L347.8,112.45 L348.3,112.43 L348.8,112.58 L349.3,112.72 L349.8,112.87 L350.3,113.05 L350.8,113.21 L351.3,113.37 L351.8,113.31 L352.3,113.23 L352.8,113.13 L353.3,113.02 L353.8,112.90 L354.3,112.75 L354.8,112.72 L355.3,112.67 L355.8,112.63 L356.3,112.51 L356.8,112.40 L357.3,112.30 L357.8,112.45 L358.3,112.61 L358.8,112.80 L359.3,112.83 L359.8,112.88 L360.3,112.96 L360.8,113.03 L361.3,113.12 L361.8,113.22 L362.3,113.33 L362.8,113.45 L363.3,113.58 L363.8,113.77 L364.3,113.95 L364.8,114.13 L365.3,114.14 L365.8,114.13 L366.3,114.10 L366.8,114.18 L367.3,114.24 L367.8,114.28 L368.3,114.32 L368.8,114.35 L369.3,114.39 L369.8,114.33 L370.3,114.27 L370.8,114.21 L371.3,114.12 L371.8,114.02 L372.3,113.93 L372.8,114.08 L373.3,114.24 L373.8,114.39 L374.3,114.26 L374.8,114.12 L375.3,113.99 L375.8,113.99 L376.3,113.99 L376.8,114.00 L377.3,113.95 L377.8,113.87 L378.3,113.75 L378.8,113.62 L379.3,113.46 L379.8,113.28 L380.3,113.11 L380.8,112.93 L381.3,112.74 L381.8,112.61 L382.3,112.48 L382.8,112.37 L383.3,112.16 L383.8,111.97 L384.3,111.80 L384.8,111.61 L385.3,111.46 L385.8,111.34 L386.3,111.26 L386.8,111.21 L387.3,111.21 L387.8,111.49 L388.3,111.79 L388.8,112.13 L389.3,112.22 L389.8,112.33 L390.3,112.44 L390.8,112.72 L391.3,112.97 L391.8,113.21 L392.3,113.24 L392.8,113.24 L393.3,113.19 L393.8,113.34 L394.3,113.45 L394.8,113.51 L395.3,113.35 L395.8,113.16 L396.3,112.93 L396.8,112.76 L397.3,112.58 L397.8,112.38 L398.3,112.16 L398.8,111.94 L399.3,111.74 L399.8,111.58 L400.3,111.45 L400.8,111.35 L401.3,111.35 L401.8,111.40 L402.3,111.50 L402.8,111.70 L403.3,111.95 L403.8,112.23 L404.3,112.28 L404.8,112.33 L405.3,112.38 L405.8,112.62 L406.3,112.83 L406.8,113.00 L407.3,113.02 L407.8,112.98 L408.3,112.88 L408.8,112.91 L409.3,112.90 L409.8,112.86 L410.3,112.67 L410.8,112.49 L411.3,112.36 L411.8,112.21 L412.3,112.11 L412.8,111.99 L413.3,111.98 L413.8,111.94 L414.3,111.88 L414.8,111.81 L415.3,111.72 L415.8,111.64 L416.3,111.51 L416.8,111.38 L417.3,111.27 L417.8,111.07 L418.3,110.89 L418.8,110.74 L419.3,110.85 L419.8,110.99 L420.3,111.18 L420.8,111.25 L421.3,111.37 L421.8,111.51 L422.3,111.58 L422.8,111.65 L423.3,111.72 L423.8,112.05 L424.3,112.35 L424.8,112.62 L425.3,112.67 L425.8,112.67 L426.3,112.61 L426.8,112.51 L427.3,112.34 L427.8,112.12 L428.3,111.80 L428.8,111.46 L429.3,111.11 L429.8,110.77 L430.3,110.47 L430.8,110.21 L431.3,110.23 L431.8,110.31 L432.3,110.46 L432.8,110.41 L433.3,110.38 L433.8,110.37 L434.3,110.38 L434.8,110.41 L435.3,110.45 L435.8,110.52 L436.3,110.61 L436.8,110.70 L437.3,110.94 L437.8,111.18 L438.3,111.41 L438.8,111.42 L439.3,111.41 L439.8,111.40 L440.3,111.50 L440.8,111.59 L441.3,111.66 L441.8,111.71 L442.3,111.75 L442.8,111.77 L443.3,111.83 L443.8,111.93 L444.3,112.06 L444.8,112.14 L445.3,112.24 L445.8,112.36 L446.3,112.45 L446.8,112.55 L447.3,112.66 L447.8,112.93 L448.3,113.21 L448.8,113.47 L449.3,113.61 L449.8,113.73 L450.3,113.83 L450.8,113.93 L451.3,113.99 L451.8,114.03 L452.3,114.05 L452.8,114.06 L453.3,114.05 L453.8,113.91 L454.3,113.75 L454.8,113.58 L455.3,113.48 L455.8,113.37 L456.3,113.26 L456.8,113.15 L457.3,113.03 L457.8,112.92 L458.3,112.86 L458.8,112.82 L459.3,112.78 L459.8,112.68 L460.3,112.59 L460.8,112.51 L461.3,112.63 L461.8,112.75 L462.3,112.87 L462.8,112.79 L463.3,112.72 L463.8,112.64 L464.3,112.60 L464.8,112.56 L465.3,112.52 L465.8,112.49 L466.3,112.45 L466.8,112.42 L467.3,112.44 L467.8,112.46 L468.3,112.49 L468.8,112.47 L469.3,112.45 L469.8,112.43 L470.3,112.43 L470.8,112.40 L471.3,112.32 L471.8,112.22 L472.3,112.10 L472.8,111.97 L473.3,111.81 L473.8,111.66 L474.3,111.53 L474.8,111.48 L475.3,111.47 L475.8,111.51 L476.3,111.52 L476.8,111.52 L477.3,111.49 L477.8,111.22 L478.3,110.94 L478.8,110.65 L479.3,110.58 L479.8,110.52 L480.3,110.46 L480.8,110.46 L481.3,110.47 L481.8,110.51 L482.3,110.39 L482.8,110.30 L483.3,110.23 L483.8,110.42 L484.3,110.63 L484.8,110.86 L485.3,110.83 L485.8,110.80 L486.3,110.77 L486.8,110.98 L487.3,111.17 L487.8,111.35 L488.3,111.39 L488.8,111.40 L489.3,111.39 L489.8,111.43 L490.3,111.48 L490.8,111.53 L491.3,111.42 L491.8,111.31 L492.3,111.22 L492.8,111.32 L493.3,111.42 L493.8,111.53 L494.3,111.70 L494.8,111.87 L495.3,112.04 L495.8,111.99 L496.3,111.93 L496.8,111.87 L497.3,111.91 L497.8,111.94 L498.3,111.97 L498.8,112.06 L499.3,112.14 L499.8,112.21 L500.3,112.24 L500.8,112.22 L501.3,112.15 L501.8,111.90 L502.3,111.62 L502.8,111.32 L503.3,111.12 L503.8,110.93 L504.3,110.75 L504.8,110.59 L505.3,110.46 L505.8,110.37 L506.3,110.40 L506.8,110.48 L507.3,110.64 L507.8,110.86 L508.3,111.14 L508.8,111.46 L509.3,111.64 L509.8,111.82 L510.3,111.97 L510.8,112.29 L511.3,112.55 L511.8,112.73" fill="none" stroke="#b4b4b4" stroke-width="1.0" stroke-linejoin="round"/>
<line x1="271.9" y1="125.4" x2="512.7" y2="125.4" stroke="#b4b4b4" stroke-width="1.0"/>
<line x1="271.90" y1="125.4" x2="271.90" y2="126.60000000000001" stroke="#b4b4b4" stroke-width="0.9"/>
<text x="269.65" y="132.30" font-size="5.5" text-anchor="start" font-weight="bold" fill="#111" stroke="#111" stroke-width="0.25" >0.0</text>
<line x1="295.98" y1="125.4" x2="295.98" y2="126.60000000000001" stroke="#b4b4b4" stroke-width="0.9"/>
<text x="293.73" y="132.30" font-size="5.5" text-anchor="start" font-weight="bold" fill="#111" stroke="#111" stroke-width="0.25" >1.0</text>
<line x1="320.06" y1="125.4" x2="320.06" y2="126.60000000000001" stroke="#b4b4b4" stroke-width="0.9"/>
<text x="317.81" y="132.30" font-size="5.5" text-anchor="start" font-weight="bold" fill="#111" stroke="#111" stroke-width="0.25" >2.0</text>
<line x1="344.14" y1="125.4" x2="344.14" y2="126.60000000000001" stroke="#b4b4b4" stroke-width="0.9"/>
<text x="341.89" y="132.30" font-size="5.5" text-anchor="start" font-weight="bold" fill="#111" stroke="#111" stroke-width="0.25" >3.0</text>
<line x1="368.22" y1="125.4" x2="368.22" y2="126.60000000000001" stroke="#b4b4b4" stroke-width="0.9"/>
<text x="365.97" y="132.30" font-size="5.5" text-anchor="start" font-weight="bold" fill="#111" stroke="#111" stroke-width="0.25" >4.0</text>
<line x1="392.30" y1="125.4" x2="392.30" y2="126.60000000000001" stroke="#b4b4b4" stroke-width="0.9"/>
<text x="390.05" y="132.30" font-size="5.5" text-anchor="start" font-weight="bold" fill="#111" stroke="#111" stroke-width="0.25" >5.0</text>
<line x1="416.38" y1="125.4" x2="416.38" y2="126.60000000000001" stroke="#b4b4b4" stroke-width="0.9"/>
<text x="414.13" y="132.30" font-size="5.5" text-anchor="start" font-weight="bold" fill="#111" stroke="#111" stroke-width="0.25" >6.0</text>
<line x1="440.46" y1="125.4" x2="440.46" y2="126.60000000000001" stroke="#b4b4b4" stroke-width="0.9"/>
<text x="438.21" y="132.30" font-size="5.5" text-anchor="start" font-weight="bold" fill="#111" stroke="#111" stroke-width="0.25" >7.0</text>
<line x1="464.54" y1="125.4" x2="464.54" y2="126.60000000000001" stroke="#b4b4b4" stroke-width="0.9"/>
<text x="462.29" y="132.30" font-size="5.5" text-anchor="start" font-weight="bold" fill="#111" stroke="#111" stroke-width="0.25" >8.0</text>
<line x1="488.62" y1="125.4" x2="488.62" y2="126.60000000000001" stroke="#b4b4b4" stroke-width="0.9"/>
<text x="486.37" y="132.30" font-size="5.5" text-anchor="start" font-weight="bold" fill="#111" stroke="#111" stroke-width="0.25" >9.0</text>
<line x1="512.70" y1="125.4" x2="512.70" y2="126.60000000000001" stroke="#b4b4b4" stroke-width="0.9"/>
<text x="510.15" y="132.30" font-size="5.5" text-anchor="start" font-weight="bold" fill="#111" stroke="#111" stroke-width="0.25" >10.0</text>
<text x="384.20" y="142.10" font-size="5.7" text-anchor="start" font-weight="bold" fill="#111" stroke="#111" stroke-width="0.25" >Time (min)</text>
<text x="4.40" y="171.20" font-size="11" text-anchor="start" font-weight="bold" fill="#111" stroke="#111" stroke-width="0.4" >C</text>
<text x="23.30" y="206.30" font-size="5.5" text-anchor="start" font-weight="bold" fill="#111" stroke="#111" stroke-width="0.25" >2H5-azaC</text>
<line x1="123" y1="188.4" x2="123" y2="193.3" stroke="#000" stroke-width="1.3"/>
<path d="M120.25,192.8 L125.75,192.8 L123,198 Z" fill="#000"/>
<text x="136.70" y="197.90" font-size="6.0" text-anchor="start" font-weight="bold" fill="#111" stroke="#111" stroke-width="0.25" >RT: 5.77</text>
<text x="229.60" y="205.70" font-size="5.7" text-anchor="end" font-weight="bold" fill="#111" stroke="#111" stroke-width="0.25" >NL: 5.45E3</text>
<path d="M10.8,217.30 L11.3,217.30 L11.8,217.30 L12.3,217.30 L12.8,217.30 L13.3,217.30 L13.8,217.30 L14.3,217.30 L14.8,217.30 L15.3,217.30 L15.8,217.30 L16.3,217.30 L16.8,217.30 L17.3,217.30 L17.8,217.30 L18.3,217.30 L18.8,217.30 L19.3,217.30 L19.8,217.30 L20.3,217.30 L20.8,217.30 L21.3,217.30 L21.8,217.30 L22.3,217.30 L22.8,217.30 L23.3,217.30 L23.8,217.30 L24.3,217.30 L24.8,217.30 L25.3,217.30 L25.8,217.30 L26.3,217.30 L26.8,217.30 L27.3,217.30 L27.8,217.30 L28.3,217.30 L28.8,217.30 L29.3,217.30 L29.8,217.30 L30.3,217.30 L30.8,217.30 L31.3,217.30 L31.8,217.30 L32.3,217.30 L32.8,217.30 L33.3,217.30 L33.8,217.30 L34.3,217.30 L34.8,217.30 L35.3,217.30 L35.8,217.30 L36.3,217.30 L36.8,217.30 L37.3,217.30 L37.8,217.30 L38.3,217.30 L38.8,217.30 L39.3,217.30 L39.8,217.30 L40.3,217.30 L40.8,217.30 L41.3,217.30 L41.8,217.30 L42.3,217.30 L42.8,217.30 L43.3,217.30 L43.8,217.30 L44.3,217.30 L44.8,217.30 L45.3,217.30 L45.8,217.30 L46.3,217.30 L46.8,217.30 L47.3,217.30 L47.8,217.30 L48.3,217.30 L48.8,217.30 L49.3,217.30 L49.8,217.30 L50.3,217.30 L50.8,217.30 L51.3,217.30 L51.8,217.30 L52.3,217.30 L52.8,217.30 L53.3,217.30 L53.8,217.30 L54.3,217.30 L54.8,217.30 L55.3,217.30 L55.8,217.30 L56.3,217.30 L56.8,217.30 L57.3,217.30 L57.8,217.30 L58.3,217.30 L58.8,217.30 L59.3,217.30 L59.8,217.30 L60.3,217.30 L60.8,217.30 L61.3,217.30 L61.8,217.30 L62.3,217.30 L62.8,217.30 L63.3,217.30 L63.8,217.30 L64.3,217.30 L64.8,217.30 L65.3,217.30 L65.8,217.30 L66.3,217.30 L66.8,217.30 L67.3,217.30 L67.8,217.30 L68.3,217.30 L68.8,217.30 L69.3,217.30 L69.8,217.30 L70.3,217.30 L70.8,217.30 L71.3,217.30 L71.8,217.30 L72.3,217.30 L72.8,217.30 L73.3,217.30 L73.8,217.30 L74.3,217.30 L74.8,217.30 L75.3,217.30 L75.8,217.30 L76.3,217.30 L76.8,217.30 L77.3,217.30 L77.8,217.30 L78.3,217.30 L78.8,217.30 L79.3,217.30 L79.8,217.30 L80.3,217.30 L80.8,217.30 L81.3,217.30 L81.8,217.30 L82.3,217.30 L82.8,217.30 L83.3,217.30 L83.8,217.30 L84.3,217.30 L84.8,217.30 L85.3,217.30 L85.8,217.30 L86.3,217.30 L86.8,217.30 L87.3,217.30 L87.8,217.30 L88.3,217.30 L88.8,217.30 L89.3,217.30 L89.8,217.30 L90.3,217.30 L90.8,217.30 L91.3,217.30 L91.8,217.30 L92.3,217.30 L92.8,217.30 L93.3,217.30 L93.8,217.30 L94.3,217.30 L94.8,217.30 L95.3,217.30 L95.8,217.30 L96.3,217.30 L96.8,217.30 L97.3,217.30 L97.8,217.30 L98.3,217.30 L98.8,217.30 L99.3,217.30 L99.8,217.30 L100.3,217.30 L100.8,217.30 L101.3,217.30 L101.8,217.30 L102.3,217.30 L102.8,217.30 L103.3,217.30 L103.8,217.30 L104.3,217.30 L104.8,217.30 L105.3,217.30 L105.8,217.30 L106.3,217.30 L106.8,217.30 L107.3,217.30 L107.8,217.30 L108.3,217.30 L108.8,217.30 L109.3,217.30 L109.8,217.30 L110.3,217.30 L110.8,217.30 L111.3,217.30 L111.8,217.30 L112.3,217.30 L112.8,217.30 L113.3,217.30 L113.8,217.30 L114.3,217.30 L114.8,217.30 L115.3,217.30 L115.8,217.30 L116.3,217.30 L116.8,217.30 L117.3,217.30 L117.8,217.30 L118.3,217.30 L118.8,217.30 L119.3,217.30 L119.8,217.30 L120.3,217.30 L120.8,217.30 L121.3,217.30 L121.8,217.30 L122.3,217.30 L122.8,217.30 L123.3,217.30 L123.8,217.30 L124.3,217.30 L124.8,217.30 L125.3,217.30 L125.8,217.30 L126.3,217.30 L126.8,217.30 L127.3,217.30 L127.8,217.30 L128.3,217.30 L128.8,217.30 L129.3,217.30 L129.8,217.30 L130.3,217.30 L130.8,217.30 L131.3,217.29 L131.8,217.28 L132.3,217.27 L132.8,217.25 L133.3,217.22 L133.8,217.16 L134.3,217.07 L134.8,216.94 L135.3,216.74 L135.8,216.45 L136.3,216.06 L136.8,215.53 L137.3,214.83 L137.8,213.96 L138.3,212.88 L138.8,211.61 L139.3,210.17 L139.8,208.59 L140.3,206.93 L140.8,205.27 L141.3,203.71 L141.8,202.33 L142.3,201.24 L142.8,200.52 L143.3,200.21 L143.8,200.25 L144.3,200.45 L144.8,200.81 L145.3,201.30 L145.8,201.93 L146.3,202.66 L146.8,203.49 L147.3,204.39 L147.8,205.35 L148.3,206.33 L148.8,207.33 L149.3,208.32 L149.8,209.28 L150.3,210.21 L150.8,211.09 L151.3,211.91 L151.8,212.66 L152.3,213.35 L152.8,213.96 L153.3,214.51 L153.8,214.99 L154.3,215.40 L154.8,215.75 L155.3,216.05 L155.8,216.30 L156.3,216.51 L156.8,216.68 L157.3,216.82 L157.8,216.93 L158.3,217.02 L158.8,217.09 L159.3,217.14 L159.8,217.18 L160.3,217.21 L160.8,217.24 L161.3,217.25 L161.8,217.27 L162.3,217.28 L162.8,217.28 L163.3,217.29 L163.8,217.29 L164.3,217.29 L164.8,217.30 L165.3,217.30 L165.8,217.30 L166.3,217.30 L166.8,217.30 L167.3,217.30 L167.8,217.30 L168.3,217.30 L168.8,217.30 L169.3,217.30 L169.8,217.30 L170.3,217.30 L170.8,217.30 L171.3,217.30 L171.8,217.30 L172.3,217.30 L172.8,217.30 L173.3,217.30 L173.8,217.30 L174.3,217.30 L174.8,217.30 L175.3,217.30 L175.8,217.30 L176.3,217.30 L176.8,217.30 L177.3,217.30 L177.8,217.30 L178.3,217.30 L178.8,217.30 L179.3,217.30 L179.8,217.30 L180.3,217.30 L180.8,217.30 L181.3,217.30 L181.8,217.30 L182.3,217.30 L182.8,217.30 L183.3,217.30 L183.8,217.30 L184.3,217.30 L184.8,217.30 L185.3,217.30 L185.8,217.30 L186.3,217.30 L186.8,217.30 L187.3,217.30 L187.8,217.30 L188.3,217.30 L188.8,217.30 L189.3,217.30 L189.8,217.30 L190.3,217.30 L190.8,217.30 L191.3,217.30 L191.8,217.30 L192.3,217.30 L192.8,217.30 L193.3,217.30 L193.8,217.30 L194.3,217.30 L194.8,217.30 L195.3,217.30 L195.8,217.30 L196.3,217.30 L196.8,217.30 L197.3,217.30 L197.8,217.30 L198.3,217.30 L198.8,217.30 L199.3,217.30 L199.8,217.30 L200.3,217.30 L200.8,217.30 L201.3,217.30 L201.8,217.30 L202.3,217.30 L202.8,217.30 L203.3,217.30 L203.8,217.30 L204.3,217.30 L204.8,217.30 L205.3,217.30 L205.8,217.30 L206.3,217.30 L206.8,217.30 L207.3,217.30 L207.8,217.30 L208.3,217.30 L208.8,217.30 L209.3,217.30 L209.8,217.30 L210.3,217.30 L210.8,217.30 L211.3,217.30 L211.8,217.30 L212.3,217.30 L212.8,217.30 L213.3,217.30 L213.8,217.30 L214.3,217.30 L214.8,217.30 L215.3,217.30 L215.8,217.30 L216.3,217.30 L216.8,217.30 L217.3,217.30 L217.8,217.30 L218.3,217.30 L218.8,217.30 L219.3,217.30 L219.8,217.30 L220.3,217.30 L220.8,217.30 L221.3,217.30 L221.8,217.30 L222.3,217.30 L222.8,217.30 L223.3,217.30 L223.8,217.30 L224.3,217.30 L224.8,217.30 L225.3,217.30 L225.8,217.30 L226.3,217.30 L226.8,217.30 L227.3,217.30 L227.8,217.30 L228.3,217.30 L228.8,217.30 L229.3,217.30 L229.8,217.30 L230.3,217.30 L230.8,217.30 L231.3,217.30 L231.8,217.30 L232.3,217.30 L232.8,217.30 L233.3,217.30 L233.8,217.30 L234.3,217.30 L234.8,217.30 L235.3,217.30 L235.8,217.30 L236.3,217.30 L236.8,217.30 L237.3,217.30 L237.8,217.30 L238.3,217.30 L238.8,217.30 L239.3,217.30" fill="none" stroke="#b4b4b4" stroke-width="1.0" stroke-linejoin="round"/>
<text x="22.80" y="245.70" font-size="5.7" text-anchor="start" font-weight="bold" fill="#111" stroke="#111" stroke-width="0.25" >HD5-azaC</text>
<line x1="120.5" y1="237.2" x2="120.5" y2="242.70000000000002" stroke="#000" stroke-width="1.3"/>
<path d="M117.9,242.20000000000002 L123.1,242.20000000000002 L120.5,247.4 Z" fill="#000"/>
<text x="139.80" y="240.00" font-size="5.7" text-anchor="start" font-weight="bold" fill="#111" stroke="#111" stroke-width="0.25" >RT: 5.89</text>
<text x="231.30" y="248.00" font-size="5.5" text-anchor="end" font-weight="bold" fill="#111" stroke="#111" stroke-width="0.25" >NL: 6.44E1</text>
<path d="M12.0,259.20 L12.5,259.20 L13.0,259.20 L13.5,259.20 L14.0,259.20 L14.5,259.20 L15.0,259.20 L15.5,259.20 L16.0,259.20 L16.5,259.20 L17.0,259.20 L17.5,259.20 L18.0,259.20 L18.5,259.20 L19.0,259.20 L19.5,259.20 L20.0,259.20 L20.5,259.20 L21.0,259.20 L21.5,259.20 L22.0,259.20 L22.5,259.20 L23.0,259.20 L23.5,259.20 L24.0,259.20 L24.5,259.20 L25.0,259.20 L25.5,259.20 L26.0,259.20 L26.5,259.20 L27.0,259.20 L27.5,259.20 L28.0,259.20 L28.5,259.20 L29.0,259.20 L29.5,259.20 L30.0,259.20 L30.5,259.20 L31.0,259.20 L31.5,259.20 L32.0,259.20 L32.5,259.20 L33.0,259.20 L33.5,259.20 L34.0,259.20 L34.5,259.20 L35.0,259.20 L35.5,259.20 L36.0,259.20 L36.5,259.20 L37.0,259.20 L37.5,259.20 L38.0,259.20 L38.5,259.20 L39.0,259.20 L39.5,259.20 L40.0,259.20 L40.5,259.20 L41.0,259.20 L41.5,259.20 L42.0,259.20 L42.5,259.20 L43.0,259.20 L43.5,259.20 L44.0,259.20 L44.5,259.20 L45.0,259.20 L45.5,259.20 L46.0,259.20 L46.5,259.20 L47.0,259.20 L47.5,259.20 L48.0,259.20 L48.5,259.20 L49.0,259.20 L49.5,259.20 L50.0,259.20 L50.5,259.20 L51.0,259.20 L51.5,259.20 L52.0,259.20 L52.5,259.20 L53.0,259.20 L53.5,259.20 L54.0,259.20 L54.5,259.20 L55.0,259.20 L55.5,259.20 L56.0,259.20 L56.5,259.20 L57.0,259.20 L57.5,259.20 L58.0,259.20 L58.5,259.20 L59.0,259.20 L59.5,259.20 L60.0,259.20 L60.5,259.20 L61.0,259.20 L61.5,259.20 L62.0,259.20 L62.5,259.20 L63.0,259.20 L63.5,259.20 L64.0,259.20 L64.5,259.20 L65.0,259.20 L65.5,259.20 L66.0,259.20 L66.5,259.20 L67.0,259.20 L67.5,259.20 L68.0,259.20 L68.5,259.20 L69.0,259.20 L69.5,259.20 L70.0,259.20 L70.5,259.20 L71.0,259.20 L71.5,259.20 L72.0,259.20 L72.5,259.20 L73.0,259.20 L73.5,259.20 L74.0,259.20 L74.5,259.20 L75.0,259.20 L75.5,259.20 L76.0,259.20 L76.5,259.20 L77.0,259.20 L77.5,259.20 L78.0,259.20 L78.5,259.20 L79.0,259.20 L79.5,259.20 L80.0,259.20 L80.5,259.20 L81.0,259.20 L81.5,259.20 L82.0,259.20 L82.5,259.20 L83.0,259.20 L83.5,259.20 L84.0,259.20 L84.5,259.20 L85.0,259.20 L85.5,259.20 L86.0,259.20 L86.5,259.20 L87.0,259.20 L87.5,259.20 L88.0,259.20 L88.5,259.20 L89.0,259.20 L89.5,259.20 L90.0,259.20 L90.5,259.20 L91.0,259.20 L91.5,259.20 L92.0,259.19 L92.5,259.18 L93.0,259.16 L93.5,259.10 L94.0,259.00 L94.5,258.83 L95.0,258.58 L95.5,258.29 L96.0,258.00 L96.5,257.78 L97.0,257.70 L97.5,257.78 L98.0,258.00 L98.5,258.29 L99.0,258.58 L99.5,258.83 L100.0,259.00 L100.5,259.10 L101.0,259.16 L101.5,259.18 L102.0,259.19 L102.5,259.20 L103.0,259.20 L103.5,259.20 L104.0,259.20 L104.5,259.20 L105.0,259.20 L105.5,259.20 L106.0,259.20 L106.5,259.20 L107.0,259.20 L107.5,259.20 L108.0,259.20 L108.5,259.20 L109.0,259.20 L109.5,259.20 L110.0,259.20 L110.5,259.20 L111.0,259.20 L111.5,259.20 L112.0,259.20 L112.5,259.20 L113.0,259.20 L113.5,259.20 L114.0,259.20 L114.5,259.20 L115.0,259.20 L115.5,259.20 L116.0,259.20 L116.5,259.20 L117.0,259.20 L117.5,259.20 L118.0,259.20 L118.5,259.20 L119.0,259.20 L119.5,259.20 L120.0,259.20 L120.5,259.20 L121.0,259.20 L121.5,259.20 L122.0,259.20 L122.5,259.20 L123.0,259.19 L123.5,259.19 L124.0,259.18 L124.5,259.16 L125.0,259.14 L125.5,259.10 L126.0,259.05 L126.5,258.97 L127.0,258.87 L127.5,258.74 L128.0,258.57 L128.5,258.36 L129.0,258.11 L129.5,257.83 L130.0,257.52 L130.5,257.19 L131.0,256.88 L131.5,256.58 L132.0,256.33 L132.5,256.14 L133.0,256.03 L133.5,256.00 L134.0,256.06 L134.5,256.21 L135.0,256.42 L135.5,256.69 L136.0,256.98 L136.5,257.28 L137.0,257.56 L137.5,257.80 L138.0,257.95 L138.5,258.00 L139.0,257.91 L139.5,257.64 L140.0,257.14 L140.5,256.39 L141.0,255.36 L141.5,254.03 L142.0,252.44 L142.5,250.64 L143.0,248.73 L143.5,246.84 L144.0,245.14 L144.5,243.78 L145.0,242.90 L145.5,242.60 L146.0,242.99 L146.5,244.10 L147.0,245.78 L147.5,247.83 L148.0,250.00 L148.5,252.11 L149.0,253.98 L149.5,255.54 L150.0,256.75 L150.5,257.64 L151.0,258.25 L151.5,258.65 L152.0,258.89 L152.5,259.04 L153.0,259.12 L153.5,259.16 L154.0,259.18 L154.5,259.19 L155.0,259.20 L155.5,259.20 L156.0,259.20 L156.5,259.20 L157.0,259.20 L157.5,259.20 L158.0,259.20 L158.5,259.20 L159.0,259.20 L159.5,259.20 L160.0,259.20 L160.5,259.20 L161.0,259.20 L161.5,259.20 L162.0,259.20 L162.5,259.20 L163.0,259.20 L163.5,259.20 L164.0,259.20 L164.5,259.20 L165.0,259.20 L165.5,259.20 L166.0,259.20 L166.5,259.20 L167.0,259.20 L167.5,259.20 L168.0,259.20 L168.5,259.20 L169.0,259.20 L169.5,259.20 L170.0,259.20 L170.5,259.20 L171.0,259.20 L171.5,259.20 L172.0,259.20 L172.5,259.20 L173.0,259.20 L173.5,259.20 L174.0,259.20 L174.5,259.20 L175.0,259.20 L175.5,259.20 L176.0,259.20 L176.5,259.20 L177.0,259.20 L177.5,259.20 L178.0,259.20 L178.5,259.20 L179.0,259.20 L179.5,259.20 L180.0,259.20 L180.5,259.20 L181.0,259.20 L181.5,259.20 L182.0,259.20 L182.5,259.20 L183.0,259.20 L183.5,259.20 L184.0,259.20 L184.5,259.20 L185.0,259.20 L185.5,259.20 L186.0,259.20 L186.5,259.20 L187.0,259.20 L187.5,259.20 L188.0,259.20 L188.5,259.20 L189.0,259.20 L189.5,259.20 L190.0,259.20 L190.5,259.20 L191.0,259.20 L191.5,259.20 L192.0,259.20 L192.5,259.20 L193.0,259.20 L193.5,259.20 L194.0,259.20 L194.5,259.20 L195.0,259.20 L195.5,259.20 L196.0,259.20 L196.5,259.20 L197.0,259.20 L197.5,259.20 L198.0,259.20 L198.5,259.20 L199.0,259.20 L199.5,259.20 L200.0,259.20 L200.5,259.20 L201.0,259.20 L201.5,259.20 L202.0,259.20 L202.5,259.20 L203.0,259.20 L203.5,259.20 L204.0,259.20 L204.5,259.20 L205.0,259.20 L205.5,259.20 L206.0,259.20 L206.5,259.20 L207.0,259.20 L207.5,259.20 L208.0,259.20 L208.5,259.20 L209.0,259.20 L209.5,259.20 L210.0,259.20 L210.5,259.20 L211.0,259.20 L211.5,259.20 L212.0,259.20 L212.5,259.20 L213.0,259.20 L213.5,259.20 L214.0,259.20 L214.5,259.20 L215.0,259.20 L215.5,259.20 L216.0,259.20 L216.5,259.20 L217.0,259.20 L217.5,259.20 L218.0,259.20 L218.5,259.20 L219.0,259.20 L219.5,259.20 L220.0,259.20 L220.5,259.20 L221.0,259.20 L221.5,259.20 L222.0,259.20 L222.5,259.20 L223.0,259.20 L223.5,259.20 L224.0,259.20 L224.5,259.20 L225.0,259.20 L225.5,259.20 L226.0,259.20 L226.5,259.20 L227.0,259.20 L227.5,259.20 L228.0,259.20 L228.5,259.20 L229.0,259.20 L229.5,259.20 L230.0,259.20 L230.5,259.20 L231.0,259.20 L231.5,259.20 L232.0,259.20 L232.5,259.20 L233.0,259.20 L233.5,259.20 L234.0,259.20 L234.5,259.20 L235.0,259.20 L235.5,259.20 L236.0,259.20 L236.5,259.20 L237.0,259.20 L237.5,259.20 L238.0,259.20 L238.5,259.20 L239.0,259.20" fill="none" stroke="#b4b4b4" stroke-width="1.0" stroke-linejoin="round"/>
<text x="20.00" y="279.10" font-size="5.85" text-anchor="start" font-weight="bold" fill="#111" stroke="#111" stroke-width="0.25" >2D5-azaC</text>
<line x1="123" y1="270.2" x2="123" y2="274.90000000000003" stroke="#000" stroke-width="1.3"/>
<path d="M120.3,274.40000000000003 L125.7,274.40000000000003 L123,279.6 Z" fill="#000"/>
<text x="227.80" y="283.00" font-size="5.7" text-anchor="end" font-weight="bold" fill="#111" stroke="#111" stroke-width="0.25" >NL: 3.29</text>
<path d="M11.8,289.22 L12.3,289.22 L12.8,289.22 L13.3,289.21 L13.8,289.13 L14.3,289.05 L14.8,288.96 L15.3,288.94 L15.8,288.93 L16.3,288.92 L16.8,288.95 L17.3,288.98 L17.8,288.99 L18.3,288.93 L18.8,288.83 L19.3,288.71 L19.8,288.49 L20.3,288.26 L20.8,288.04 L21.3,287.90 L21.8,287.79 L22.3,287.70 L22.8,287.62 L23.3,287.58 L23.8,287.57 L24.3,287.65 L24.8,287.74 L25.3,287.86 L25.8,287.91 L26.3,287.98 L26.8,288.06 L27.3,288.23 L27.8,288.39 L28.3,288.55 L28.8,288.67 L29.3,288.78 L29.8,288.87 L30.3,288.88 L30.8,288.87 L31.3,288.83 L31.8,288.87 L32.3,288.91 L32.8,288.94 L33.3,288.93 L33.8,288.91 L34.3,288.89 L34.8,288.82 L35.3,288.75 L35.8,288.68 L36.3,288.72 L36.8,288.76 L37.3,288.80 L37.8,288.75 L38.3,288.70 L38.8,288.65 L39.3,288.65 L39.8,288.65 L40.3,288.65 L40.8,288.61 L41.3,288.58 L41.8,288.55 L42.3,288.58 L42.8,288.60 L43.3,288.63 L43.8,288.59 L44.3,288.55 L44.8,288.52 L45.3,288.48 L45.8,288.44 L46.3,288.41 L46.8,288.44 L47.3,288.48 L47.8,288.51 L48.3,288.54 L48.8,288.58 L49.3,288.63 L49.8,288.61 L50.3,288.61 L50.8,288.61 L51.3,288.65 L51.8,288.69 L52.3,288.73 L52.8,288.78 L53.3,288.83 L53.8,288.86 L54.3,288.92 L54.8,288.95 L55.3,288.96 L55.8,288.88 L56.3,288.78 L56.8,288.66 L57.3,288.50 L57.8,288.33 L58.3,288.16 L58.8,288.06 L59.3,287.97 L59.8,287.91 L60.3,287.85 L60.8,287.81 L61.3,287.81 L61.8,287.78 L62.3,287.78 L62.8,287.79 L63.3,287.84 L63.8,287.90 L64.3,287.97 L64.8,288.13 L65.3,288.30 L65.8,288.47 L66.3,288.56 L66.8,288.65 L67.3,288.73 L67.8,288.78 L68.3,288.82 L68.8,288.84 L69.3,288.84 L69.8,288.83 L70.3,288.82 L70.8,288.84 L71.3,288.85 L71.8,288.87 L72.3,288.88 L72.8,288.88 L73.3,288.89 L73.8,288.87 L74.3,288.85 L74.8,288.83 L75.3,288.83 L75.8,288.84 L76.3,288.84 L76.8,288.85 L77.3,288.87 L77.8,288.89 L78.3,288.93 L78.8,288.97 L79.3,289.01 L79.8,288.98 L80.3,288.95 L80.8,288.93 L81.3,288.90 L81.8,288.87 L82.3,288.84 L82.8,288.83 L83.3,288.83 L83.8,288.83 L84.3,288.85 L84.8,288.87 L85.3,288.89 L85.8,288.86 L86.3,288.84 L86.8,288.81 L87.3,288.81 L87.8,288.81 L88.3,288.81 L88.8,288.83 L89.3,288.83 L89.8,288.82 L90.3,288.73 L90.8,288.63 L91.3,288.52 L91.8,288.49 L92.3,288.46 L92.8,288.42 L93.3,288.33 L93.8,288.25 L94.3,288.17 L94.8,288.14 L95.3,288.13 L95.8,288.12 L96.3,288.09 L96.8,288.08 L97.3,288.07 L97.8,288.07 L98.3,288.08 L98.8,288.10 L99.3,288.13 L99.8,288.18 L100.3,288.23 L100.8,288.25 L101.3,288.29 L101.8,288.33 L102.3,288.43 L102.8,288.54 L103.3,288.66 L103.8,288.71 L104.3,288.76 L104.8,288.81 L105.3,288.92 L105.8,289.03 L106.3,289.13 L106.8,289.18 L107.3,289.22 L107.8,289.25 L108.3,289.32 L108.8,289.38 L109.3,289.43 L109.8,289.42 L110.3,289.40 L110.8,289.37 L111.3,289.38 L111.8,289.38 L112.3,289.35 L112.8,289.36 L113.3,289.36 L113.8,289.34 L114.3,289.16 L114.8,288.97 L115.3,288.77 L115.8,288.69 L116.3,288.61 L116.8,288.54 L117.3,288.42 L117.8,288.32 L118.3,288.22 L118.8,288.16 L119.3,288.11 L119.8,288.08 L120.3,288.04 L120.8,288.02 L121.3,288.00 L121.8,288.02 L122.3,288.05 L122.8,288.08 L123.3,288.05 L123.8,288.02 L124.3,288.00 L124.8,288.03 L125.3,288.07 L125.8,288.11 L126.3,288.16 L126.8,288.22 L127.3,288.28 L127.8,288.32 L128.3,288.37 L128.8,288.41 L129.3,288.46 L129.8,288.51 L130.3,288.55 L130.8,288.61 L131.3,288.66 L131.8,288.71 L132.3,288.80 L132.8,288.89 L133.3,288.97 L133.8,288.97 L134.3,288.97 L134.8,288.97 L135.3,289.08 L135.8,289.18 L136.3,289.28 L136.8,289.27 L137.3,289.26 L137.8,289.25 L138.3,289.24 L138.8,289.23 L139.3,289.21 L139.8,289.22 L140.3,289.23 L140.8,289.23 L141.3,289.17 L141.8,289.11 L142.3,289.04 L142.8,289.08 L143.3,289.12 L143.8,289.16 L144.3,289.12 L144.8,289.09 L145.3,289.05 L145.8,289.01 L146.3,288.98 L146.8,288.94 L147.3,288.90 L147.8,288.86 L148.3,288.82 L148.8,288.84 L149.3,288.87 L149.8,288.90 L150.3,288.89 L150.8,288.87 L151.3,288.84 L151.8,288.79 L152.3,288.74 L152.8,288.68 L153.3,288.64 L153.8,288.60 L154.3,288.55 L154.8,288.44 L155.3,288.33 L155.8,288.22 L156.3,288.10 L156.8,287.99 L157.3,287.88 L157.8,287.82 L158.3,287.77 L158.8,287.72 L159.3,287.63 L159.8,287.54 L160.3,287.47 L160.8,287.44 L161.3,287.42 L161.8,287.41 L162.3,287.46 L162.8,287.52 L163.3,287.59 L163.8,287.62 L164.3,287.65 L164.8,287.68 L165.3,287.74 L165.8,287.79 L166.3,287.85 L166.8,287.89 L167.3,287.93 L167.8,287.97 L168.3,287.99 L168.8,288.01 L169.3,288.03 L169.8,288.04 L170.3,288.05 L170.8,288.06 L171.3,288.15 L171.8,288.23 L172.3,288.32 L172.8,288.40 L173.3,288.48 L173.8,288.56 L174.3,288.57 L174.8,288.57 L175.3,288.57 L175.8,288.55 L176.3,288.53 L176.8,288.50 L177.3,288.50 L177.8,288.51 L178.3,288.52 L178.8,288.52 L179.3,288.52 L179.8,288.52 L180.3,288.55 L180.8,288.58 L181.3,288.62 L181.8,288.65 L182.3,288.68 L182.8,288.71 L183.3,288.84 L183.8,288.97 L184.3,289.10 L184.8,289.12 L185.3,289.14 L185.8,289.17 L186.3,289.16 L186.8,289.16 L187.3,289.15 L187.8,289.22 L188.3,289.28 L188.8,289.34 L189.3,289.34 L189.8,289.33 L190.3,289.31 L190.8,289.35 L191.3,289.38 L191.8,289.41 L192.3,289.46 L192.8,289.52 L193.3,289.57 L193.8,289.56 L194.3,289.55 L194.8,289.55 L195.3,289.53 L195.8,289.51 L196.3,289.49 L196.8,289.47 L197.3,289.45 L197.8,289.43 L198.3,289.47 L198.8,289.51 L199.3,289.55 L199.8,289.58 L200.3,289.61 L200.8,289.64 L201.3,289.58 L201.8,289.53 L202.3,289.48 L202.8,289.44 L203.3,289.41 L203.8,289.37 L204.3,289.37 L204.8,289.37 L205.3,289.37 L205.8,289.37 L206.3,289.37 L206.8,289.37 L207.3,289.46 L207.8,289.55 L208.3,289.64 L208.8,289.60 L209.3,289.55 L209.8,289.51 L210.3,289.53 L210.8,289.56 L211.3,289.58 L211.8,289.50 L212.3,289.42 L212.8,289.34 L213.3,289.33 L213.8,289.32 L214.3,289.31 L214.8,289.33 L215.3,289.35 L215.8,289.37 L216.3,289.37 L216.8,289.37 L217.3,289.36 L217.8,289.28 L218.3,289.21 L218.8,289.13 L219.3,289.08 L219.8,289.03 L220.3,288.98 L220.8,289.04 L221.3,289.10 L221.8,289.17 L222.3,289.09 L222.8,289.02 L223.3,288.96 L223.8,288.99 L224.3,289.03 L224.8,289.07 L225.3,289.01 L225.8,288.95 L226.3,288.89 L226.8,288.92 L227.3,288.96 L227.8,288.98 L228.3,288.96 L228.8,288.93 L229.3,288.90 L229.8,288.84 L230.3,288.78 L230.8,288.71 L231.3,288.61 L231.8,288.51 L232.3,288.41 L232.8,288.38 L233.3,288.35 L233.8,288.33 L234.3,288.21 L234.8,288.09 L235.3,287.97 L235.8,287.94 L236.3,287.91 L236.8,287.88 L237.3,287.85 L237.8,287.83 L238.3,287.82 L238.8,287.84 L239.3,287.87 L239.8,287.91 L240.3,287.84 L240.8,287.77 L241.3,287.70 L241.8,287.77" fill="none" stroke="#b4b4b4" stroke-width="1.0" stroke-linejoin="round"/>
<line x1="11.5" y1="302.5" x2="242.3" y2="302.5" stroke="#b4b4b4" stroke-width="1.0"/>
<line x1="11.50" y1="302.5" x2="11.50" y2="303.7" stroke="#b4b4b4" stroke-width="0.9"/>
<text x="9.25" y="309.60" font-size="5.5" text-anchor="start" font-weight="bold" fill="#111" stroke="#111" stroke-width="0.25" >0.0</text>
<line x1="34.58" y1="302.5" x2="34.58" y2="303.7" stroke="#b4b4b4" stroke-width="0.9"/>
<text x="32.33" y="309.60" font-size="5.5" text-anchor="start" font-weight="bold" fill="#111" stroke="#111" stroke-width="0.25" >1.0</text>
<line x1="57.66" y1="302.5" x2="57.66" y2="303.7" stroke="#b4b4b4" stroke-width="0.9"/>
<text x="55.41" y="309.60" font-size="5.5" text-anchor="start" font-weight="bold" fill="#111" stroke="#111" stroke-width="0.25" >2.0</text>
<line x1="80.74" y1="302.5" x2="80.74" y2="303.7" stroke="#b4b4b4" stroke-width="0.9"/>
<text x="78.49" y="309.60" font-size="5.5" text-anchor="start" font-weight="bold" fill="#111" stroke="#111" stroke-width="0.25" >3.0</text>
<line x1="103.82" y1="302.5" x2="103.82" y2="303.7" stroke="#b4b4b4" stroke-width="0.9"/>
<text x="101.57" y="309.60" font-size="5.5" text-anchor="start" font-weight="bold" fill="#111" stroke="#111" stroke-width="0.25" >4.0</text>
<line x1="126.90" y1="302.5" x2="126.90" y2="303.7" stroke="#b4b4b4" stroke-width="0.9"/>
<text x="124.65" y="309.60" font-size="5.5" text-anchor="start" font-weight="bold" fill="#111" stroke="#111" stroke-width="0.25" >5.0</text>
<line x1="149.98" y1="302.5" x2="149.98" y2="303.7" stroke="#b4b4b4" stroke-width="0.9"/>
<text x="147.73" y="309.60" font-size="5.5" text-anchor="start" font-weight="bold" fill="#111" stroke="#111" stroke-width="0.25" >6.0</text>
<line x1="173.06" y1="302.5" x2="173.06" y2="303.7" stroke="#b4b4b4" stroke-width="0.9"/>
<text x="170.81" y="309.60" font-size="5.5" text-anchor="start" font-weight="bold" fill="#111" stroke="#111" stroke-width="0.25" >7.0</text>
<line x1="196.14" y1="302.5" x2="196.14" y2="303.7" stroke="#b4b4b4" stroke-width="0.9"/>
<text x="193.89" y="309.60" font-size="5.5" text-anchor="start" font-weight="bold" fill="#111" stroke="#111" stroke-width="0.25" >8.0</text>
<line x1="219.22" y1="302.5" x2="219.22" y2="303.7" stroke="#b4b4b4" stroke-width="0.9"/>
<text x="216.97" y="309.60" font-size="5.5" text-anchor="start" font-weight="bold" fill="#111" stroke="#111" stroke-width="0.25" >9.0</text>
<line x1="242.30" y1="302.5" x2="242.30" y2="303.7" stroke="#b4b4b4" stroke-width="0.9"/>
<text x="239.75" y="309.60" font-size="5.5" text-anchor="start" font-weight="bold" fill="#111" stroke="#111" stroke-width="0.25" >10.0</text>
<text x="122.30" y="319.20" font-size="5.7" text-anchor="start" font-weight="bold" fill="#111" stroke="#111" stroke-width="0.25" >Time (min)</text>
<text x="264.00" y="171.50" font-size="11" text-anchor="start" font-weight="bold" fill="#111" stroke="#111" stroke-width="0.4" >D</text>
<text x="282.05" y="209.95" font-size="5.35" text-anchor="start" font-weight="bold" fill="#111" stroke="#111" stroke-width="0.25" >2H-5-azaC</text>
<text x="377.80" y="204.00" font-size="5.7" text-anchor="start" font-weight="bold" fill="#111" stroke="#111" stroke-width="0.25" >RT: 4.75</text>
<text x="401.90" y="196.30" font-size="5.7" text-anchor="start" font-weight="bold" fill="#111" stroke="#111" stroke-width="0.25" >RT: 5.77</text>
<text x="496.90" y="206.50" font-size="5.75" text-anchor="end" font-weight="bold" fill="#111" stroke="#111" stroke-width="0.25" >NL: 6.41E3</text>
<path d="M266.5,218.30 L267.0,218.30 L267.5,218.30 L268.0,218.30 L268.5,218.30 L269.0,218.30 L269.5,218.30 L270.0,218.30 L270.5,218.30 L271.0,218.30 L271.5,218.30 L272.0,218.30 L272.5,218.30 L273.0,218.30 L273.5,218.30 L274.0,218.30 L274.5,218.30 L275.0,218.30 L275.5,218.30 L276.0,218.30 L276.5,218.30 L277.0,218.30 L277.5,218.30 L278.0,218.30 L278.5,218.30 L279.0,218.30 L279.5,218.30 L280.0,218.30 L280.5,218.30 L281.0,218.30 L281.5,218.30 L282.0,218.30 L282.5,218.30 L283.0,218.30 L283.5,218.30 L284.0,218.30 L284.5,218.30 L285.0,218.30 L285.5,218.30 L286.0,218.30 L286.5,218.30 L287.0,218.30 L287.5,218.30 L288.0,218.30 L288.5,218.30 L289.0,218.30 L289.5,218.30 L290.0,218.30 L290.5,218.30 L291.0,218.30 L291.5,218.30 L292.0,218.30 L292.5,218.30 L293.0,218.30 L293.5,218.30 L294.0,218.30 L294.5,218.30 L295.0,218.30 L295.5,218.30 L296.0,218.30 L296.5,218.30 L297.0,218.30 L297.5,218.30 L298.0,218.30 L298.5,218.30 L299.0,218.30 L299.5,218.30 L300.0,218.30 L300.5,218.30 L301.0,218.30 L301.5,218.30 L302.0,218.30 L302.5,218.30 L303.0,218.30 L303.5,218.30 L304.0,218.30 L304.5,218.30 L305.0,218.30 L305.5,218.30 L306.0,218.30 L306.5,218.30 L307.0,218.30 L307.5,218.30 L308.0,218.30 L308.5,218.30 L309.0,218.30 L309.5,218.30 L310.0,218.30 L310.5,218.30 L311.0,218.30 L311.5,218.30 L312.0,218.30 L312.5,218.30 L313.0,218.30 L313.5,218.30 L314.0,218.30 L314.5,218.30 L315.0,218.30 L315.5,218.30 L316.0,218.30 L316.5,218.30 L317.0,218.30 L317.5,218.30 L318.0,218.30 L318.5,218.30 L319.0,218.30 L319.5,218.30 L320.0,218.30 L320.5,218.30 L321.0,218.30 L321.5,218.30 L322.0,218.30 L322.5,218.30 L323.0,218.30 L323.5,218.30 L324.0,218.30 L324.5,218.30 L325.0,218.30 L325.5,218.30 L326.0,218.30 L326.5,218.30 L327.0,218.30 L327.5,218.30 L328.0,218.30 L328.5,218.30 L329.0,218.30 L329.5,218.30 L330.0,218.30 L330.5,218.30 L331.0,218.30 L331.5,218.30 L332.0,218.30 L332.5,218.30 L333.0,218.30 L333.5,218.30 L334.0,218.30 L334.5,218.30 L335.0,218.30 L335.5,218.30 L336.0,218.30 L336.5,218.30 L337.0,218.30 L337.5,218.30 L338.0,218.30 L338.5,218.30 L339.0,218.30 L339.5,218.30 L340.0,218.30 L340.5,218.30 L341.0,218.30 L341.5,218.30 L342.0,218.30 L342.5,218.30 L343.0,218.30 L343.5,218.30 L344.0,218.30 L344.5,218.30 L345.0,218.30 L345.5,218.30 L346.0,218.30 L346.5,218.30 L347.0,218.30 L347.5,218.30 L348.0,218.30 L348.5,218.30 L349.0,218.30 L349.5,218.30 L350.0,218.30 L350.5,218.30 L351.0,218.30 L351.5,218.30 L352.0,218.30 L352.5,218.30 L353.0,218.30 L353.5,218.30 L354.0,218.30 L354.5,218.30 L355.0,218.30 L355.5,218.30 L356.0,218.30 L356.5,218.30 L357.0,218.30 L357.5,218.30 L358.0,218.30 L358.5,218.30 L359.0,218.30 L359.5,218.30 L360.0,218.30 L360.5,218.30 L361.0,218.30 L361.5,218.30 L362.0,218.30 L362.5,218.30 L363.0,218.30 L363.5,218.30 L364.0,218.30 L364.5,218.30 L365.0,218.30 L365.5,218.30 L366.0,218.30 L366.5,218.30 L367.0,218.30 L367.5,218.30 L368.0,218.30 L368.5,218.30 L369.0,218.30 L369.5,218.30 L370.0,218.30 L370.5,218.30 L371.0,218.30 L371.5,218.30 L372.0,218.30 L372.5,218.30 L373.0,218.30 L373.5,218.30 L374.0,218.30 L374.5,218.29 L375.0,218.28 L375.5,218.26 L376.0,218.22 L376.5,218.15 L377.0,218.02 L377.5,217.83 L378.0,217.52 L378.5,217.07 L379.0,216.44 L379.5,215.61 L380.0,214.57 L380.5,213.36 L381.0,212.02 L381.5,210.67 L382.0,209.42 L382.5,208.40 L383.0,207.73 L383.5,207.50 L384.0,207.59 L384.5,207.87 L385.0,208.31 L385.5,208.90 L386.0,209.60 L386.5,210.39 L387.0,211.23 L387.5,212.09 L388.0,212.94 L388.5,213.76 L389.0,214.51 L389.5,215.20 L390.0,215.80 L390.5,216.32 L391.0,216.76 L391.5,217.12 L392.0,217.41 L392.5,217.65 L393.0,217.83 L393.5,217.96 L394.0,218.06 L394.5,218.14 L395.0,218.19 L395.5,218.22 L396.0,218.24 L396.5,218.26 L397.0,218.26 L397.5,218.25 L398.0,218.23 L398.5,218.20 L399.0,218.14 L399.5,218.06 L400.0,217.93 L400.5,217.76 L401.0,217.52 L401.5,217.19 L402.0,216.76 L402.5,216.21 L403.0,215.52 L403.5,214.68 L404.0,213.68 L404.5,212.53 L405.0,211.25 L405.5,209.85 L406.0,208.38 L406.5,206.88 L407.0,205.43 L407.5,204.06 L408.0,202.86 L408.5,201.86 L409.0,201.11 L409.5,200.65 L410.0,200.54 L410.5,200.78 L411.0,201.32 L411.5,202.09 L412.0,203.02 L412.5,204.03 L413.0,205.05 L413.5,206.03 L414.0,206.93 L414.5,207.73 L415.0,208.44 L415.5,209.07 L416.0,209.62 L416.5,210.08 L417.0,210.49 L417.5,210.86 L418.0,211.21 L418.5,211.55 L419.0,211.90 L419.5,212.25 L420.0,212.61 L420.5,212.99 L421.0,213.37 L421.5,213.75 L422.0,214.13 L422.5,214.50 L423.0,214.87 L423.5,215.22 L424.0,215.55 L424.5,215.87 L425.0,216.16 L425.5,216.43 L426.0,216.68 L426.5,216.90 L427.0,217.11 L427.5,217.28 L428.0,217.44 L428.5,217.58 L429.0,217.70 L429.5,217.81 L430.0,217.90 L430.5,217.97 L431.0,218.03 L431.5,218.09 L432.0,218.13 L432.5,218.16 L433.0,218.19 L433.5,218.22 L434.0,218.24 L434.5,218.25 L435.0,218.26 L435.5,218.27 L436.0,218.28 L436.5,218.28 L437.0,218.29 L437.5,218.29 L438.0,218.29 L438.5,218.30 L439.0,218.30 L439.5,218.30 L440.0,218.30 L440.5,218.30 L441.0,218.30 L441.5,218.30 L442.0,218.30 L442.5,218.30 L443.0,218.30 L443.5,218.30 L444.0,218.30 L444.5,218.30 L445.0,218.30 L445.5,218.30 L446.0,218.30 L446.5,218.30 L447.0,218.30 L447.5,218.30 L448.0,218.30 L448.5,218.30 L449.0,218.30 L449.5,218.30 L450.0,218.30 L450.5,218.30 L451.0,218.30 L451.5,218.30 L452.0,218.30 L452.5,218.30 L453.0,218.30 L453.5,218.30 L454.0,218.30 L454.5,218.30 L455.0,218.30 L455.5,218.30 L456.0,218.30 L456.5,218.30 L457.0,218.30 L457.5,218.30 L458.0,218.30 L458.5,218.30 L459.0,218.30 L459.5,218.30 L460.0,218.30 L460.5,218.30 L461.0,218.30 L461.5,218.30 L462.0,218.30 L462.5,218.30 L463.0,218.30 L463.5,218.30 L464.0,218.30 L464.5,218.30 L465.0,218.30 L465.5,218.30 L466.0,218.30 L466.5,218.30 L467.0,218.30 L467.5,218.30 L468.0,218.30 L468.5,218.30 L469.0,218.30 L469.5,218.30 L470.0,218.30 L470.5,218.30 L471.0,218.30 L471.5,218.30 L472.0,218.30 L472.5,218.30 L473.0,218.30 L473.5,218.30 L474.0,218.30 L474.5,218.30 L475.0,218.30 L475.5,218.30 L476.0,218.30 L476.5,218.30 L477.0,218.30 L477.5,218.30 L478.0,218.30 L478.5,218.30 L479.0,218.30 L479.5,218.30 L480.0,218.30 L480.5,218.30 L481.0,218.30 L481.5,218.30 L482.0,218.30 L482.5,218.30 L483.0,218.30 L483.5,218.30 L484.0,218.30 L484.5,218.30 L485.0,218.30 L485.5,218.30 L486.0,218.30 L486.5,218.30 L487.0,218.30 L487.5,218.30 L488.0,218.30 L488.5,218.30 L489.0,218.30 L489.5,218.30 L490.0,218.30 L490.5,218.30 L491.0,218.30 L491.5,218.30 L492.0,218.30 L492.5,218.30 L493.0,218.30 L493.5,218.30 L494.0,218.30 L494.5,218.30 L495.0,218.30 L495.5,218.30 L496.0,218.30 L496.5,218.30 L497.0,218.30 L497.5,218.30 L498.0,218.30 L498.5,218.30 L499.0,218.30 L499.5,218.30 L500.0,218.30 L500.5,218.30 L501.0,218.30 L501.5,218.30 L502.0,218.30 L502.5,218.30 L503.0,218.30 L503.5,218.30 L504.0,218.30 L504.5,218.30 L505.0,218.30 L505.5,218.30 L506.0,218.30 L506.5,218.30 L507.0,218.30 L507.5,218.30 L508.0,218.30 L508.5,218.30 L509.0,218.30 L509.5,218.30 L510.0,218.30 L510.5,218.30 L511.0,218.30 L511.5,218.30 L512.0,218.30 L512.5,218.30 L513.0,218.30" fill="none" stroke="#b4b4b4" stroke-width="1.0" stroke-linejoin="round"/>
<text x="282.05" y="252.00" font-size="5.4" text-anchor="start" font-weight="bold" fill="#111" stroke="#111" stroke-width="0.25" >HD-5-azaC</text>
<text x="375.10" y="243.00" font-size="5.8" text-anchor="start" font-weight="bold" fill="#111" stroke="#111" stroke-width="0.25" >RT: 4.73</text>
<text x="496.40" y="249.00" font-size="5.55" text-anchor="end" font-weight="bold" fill="#111" stroke="#111" stroke-width="0.25" >NL: 1.85E4</text>
<path d="M266.5,261.30 L267.0,261.30 L267.5,261.30 L268.0,261.30 L268.5,261.30 L269.0,261.30 L269.5,261.30 L270.0,261.30 L270.5,261.30 L271.0,261.30 L271.5,261.30 L272.0,261.30 L272.5,261.30 L273.0,261.30 L273.5,261.30 L274.0,261.30 L274.5,261.30 L275.0,261.30 L275.5,261.30 L276.0,261.30 L276.5,261.30 L277.0,261.30 L277.5,261.30 L278.0,261.30 L278.5,261.30 L279.0,261.30 L279.5,261.30 L280.0,261.30 L280.5,261.30 L281.0,261.30 L281.5,261.30 L282.0,261.30 L282.5,261.30 L283.0,261.30 L283.5,261.30 L284.0,261.30 L284.5,261.30 L285.0,261.30 L285.5,261.30 L286.0,261.30 L286.5,261.30 L287.0,261.30 L287.5,261.30 L288.0,261.30 L288.5,261.30 L289.0,261.30 L289.5,261.30 L290.0,261.30 L290.5,261.30 L291.0,261.30 L291.5,261.30 L292.0,261.30 L292.5,261.30 L293.0,261.30 L293.5,261.30 L294.0,261.30 L294.5,261.30 L295.0,261.30 L295.5,261.30 L296.0,261.30 L296.5,261.30 L297.0,261.30 L297.5,261.30 L298.0,261.30 L298.5,261.30 L299.0,261.30 L299.5,261.30 L300.0,261.30 L300.5,261.30 L301.0,261.30 L301.5,261.30 L302.0,261.30 L302.5,261.30 L303.0,261.30 L303.5,261.30 L304.0,261.30 L304.5,261.30 L305.0,261.30 L305.5,261.30 L306.0,261.30 L306.5,261.30 L307.0,261.30 L307.5,261.30 L308.0,261.30 L308.5,261.30 L309.0,261.30 L309.5,261.30 L310.0,261.30 L310.5,261.30 L311.0,261.30 L311.5,261.30 L312.0,261.30 L312.5,261.30 L313.0,261.30 L313.5,261.30 L314.0,261.30 L314.5,261.30 L315.0,261.30 L315.5,261.30 L316.0,261.30 L316.5,261.30 L317.0,261.30 L317.5,261.30 L318.0,261.30 L318.5,261.30 L319.0,261.30 L319.5,261.30 L320.0,261.30 L320.5,261.30 L321.0,261.30 L321.5,261.30 L322.0,261.30 L322.5,261.30 L323.0,261.30 L323.5,261.30 L324.0,261.30 L324.5,261.30 L325.0,261.30 L325.5,261.30 L326.0,261.30 L326.5,261.30 L327.0,261.30 L327.5,261.30 L328.0,261.30 L328.5,261.30 L329.0,261.30 L329.5,261.30 L330.0,261.30 L330.5,261.30 L331.0,261.30 L331.5,261.30 L332.0,261.30 L332.5,261.30 L333.0,261.30 L333.5,261.30 L334.0,261.30 L334.5,261.30 L335.0,261.30 L335.5,261.30 L336.0,261.30 L336.5,261.30 L337.0,261.30 L337.5,261.30 L338.0,261.30 L338.5,261.30 L339.0,261.30 L339.5,261.30 L340.0,261.30 L340.5,261.30 L341.0,261.30 L341.5,261.30 L342.0,261.30 L342.5,261.30 L343.0,261.30 L343.5,261.30 L344.0,261.30 L344.5,261.30 L345.0,261.30 L345.5,261.30 L346.0,261.30 L346.5,261.30 L347.0,261.30 L347.5,261.30 L348.0,261.30 L348.5,261.30 L349.0,261.30 L349.5,261.30 L350.0,261.30 L350.5,261.30 L351.0,261.30 L351.5,261.30 L352.0,261.30 L352.5,261.30 L353.0,261.30 L353.5,261.30 L354.0,261.30 L354.5,261.30 L355.0,261.30 L355.5,261.30 L356.0,261.30 L356.5,261.30 L357.0,261.30 L357.5,261.30 L358.0,261.30 L358.5,261.30 L359.0,261.30 L359.5,261.30 L360.0,261.30 L360.5,261.30 L361.0,261.30 L361.5,261.30 L362.0,261.30 L362.5,261.30 L363.0,261.30 L363.5,261.30 L364.0,261.30 L364.5,261.30 L365.0,261.30 L365.5,261.30 L366.0,261.30 L366.5,261.30 L367.0,261.30 L367.5,261.30 L368.0,261.30 L368.5,261.30 L369.0,261.30 L369.5,261.30 L370.0,261.30 L370.5,261.30 L371.0,261.30 L371.5,261.30 L372.0,261.30 L372.5,261.30 L373.0,261.30 L373.5,261.30 L374.0,261.29 L374.5,261.28 L375.0,261.26 L375.5,261.22 L376.0,261.13 L376.5,260.99 L377.0,260.73 L377.5,260.33 L378.0,259.70 L378.5,258.79 L379.0,257.55 L379.5,255.96 L380.0,254.04 L380.5,251.88 L381.0,249.65 L381.5,247.56 L382.0,245.83 L382.5,244.70 L383.0,244.30 L383.5,244.45 L384.0,244.88 L384.5,245.57 L385.0,246.50 L385.5,247.61 L386.0,248.85 L386.5,250.18 L387.0,251.53 L387.5,252.87 L388.0,254.15 L388.5,255.34 L389.0,256.41 L389.5,257.36 L390.0,258.18 L390.5,258.88 L391.0,259.45 L391.5,259.91 L392.0,260.27 L392.5,260.55 L393.0,260.77 L393.5,260.93 L394.0,261.04 L394.5,261.13 L395.0,261.18 L395.5,261.22 L396.0,261.25 L396.5,261.27 L397.0,261.28 L397.5,261.29 L398.0,261.29 L398.5,261.30 L399.0,261.30 L399.5,261.30 L400.0,261.30 L400.5,261.30 L401.0,261.30 L401.5,261.30 L402.0,261.30 L402.5,261.30 L403.0,261.30 L403.5,261.30 L404.0,261.30 L404.5,261.30 L405.0,261.30 L405.5,261.30 L406.0,261.30 L406.5,261.30 L407.0,261.30 L407.5,261.30 L408.0,261.30 L408.5,261.30 L409.0,261.30 L409.5,261.30 L410.0,261.30 L410.5,261.30 L411.0,261.30 L411.5,261.30 L412.0,261.30 L412.5,261.30 L413.0,261.30 L413.5,261.30 L414.0,261.30 L414.5,261.30 L415.0,261.30 L415.5,261.30 L416.0,261.30 L416.5,261.30 L417.0,261.30 L417.5,261.30 L418.0,261.30 L418.5,261.30 L419.0,261.30 L419.5,261.30 L420.0,261.30 L420.5,261.30 L421.0,261.30 L421.5,261.30 L422.0,261.30 L422.5,261.30 L423.0,261.30 L423.5,261.30 L424.0,261.30 L424.5,261.30 L425.0,261.30 L425.5,261.30 L426.0,261.30 L426.5,261.30 L427.0,261.30 L427.5,261.30 L428.0,261.30 L428.5,261.30 L429.0,261.30 L429.5,261.30 L430.0,261.30 L430.5,261.30 L431.0,261.30 L431.5,261.30 L432.0,261.30 L432.5,261.30 L433.0,261.30 L433.5,261.30 L434.0,261.30 L434.5,261.30 L435.0,261.30 L435.5,261.30 L436.0,261.30 L436.5,261.30 L437.0,261.30 L437.5,261.30 L438.0,261.30 L438.5,261.30 L439.0,261.30 L439.5,261.30 L440.0,261.30 L440.5,261.30 L441.0,261.30 L441.5,261.30 L442.0,261.30 L442.5,261.30 L443.0,261.30 L443.5,261.30 L444.0,261.30 L444.5,261.30 L445.0,261.30 L445.5,261.30 L446.0,261.30 L446.5,261.30 L447.0,261.30 L447.5,261.30 L448.0,261.30 L448.5,261.30 L449.0,261.30 L449.5,261.30 L450.0,261.30 L450.5,261.30 L451.0,261.30 L451.5,261.30 L452.0,261.30 L452.5,261.30 L453.0,261.30 L453.5,261.30 L454.0,261.30 L454.5,261.30 L455.0,261.30 L455.5,261.30 L456.0,261.30 L456.5,261.30 L457.0,261.30 L457.5,261.30 L458.0,261.30 L458.5,261.30 L459.0,261.30 L459.5,261.30 L460.0,261.30 L460.5,261.30 L461.0,261.30 L461.5,261.30 L462.0,261.30 L462.5,261.30 L463.0,261.30 L463.5,261.30 L464.0,261.30 L464.5,261.30 L465.0,261.30 L465.5,261.30 L466.0,261.30 L466.5,261.30 L467.0,261.30 L467.5,261.30 L468.0,261.30 L468.5,261.30 L469.0,261.30 L469.5,261.30 L470.0,261.30 L470.5,261.30 L471.0,261.30 L471.5,261.30 L472.0,261.30 L472.5,261.30 L473.0,261.30 L473.5,261.30 L474.0,261.30 L474.5,261.30 L475.0,261.30 L475.5,261.30 L476.0,261.30 L476.5,261.30 L477.0,261.30 L477.5,261.30 L478.0,261.30 L478.5,261.30 L479.0,261.30 L479.5,261.30 L480.0,261.30 L480.5,261.30 L481.0,261.30 L481.5,261.30 L482.0,261.30 L482.5,261.30 L483.0,261.30 L483.5,261.30 L484.0,261.30 L484.5,261.30 L485.0,261.30 L485.5,261.30 L486.0,261.30 L486.5,261.30 L487.0,261.30 L487.5,261.30 L488.0,261.30 L488.5,261.30 L489.0,261.30 L489.5,261.30 L490.0,261.30 L490.5,261.30 L491.0,261.30 L491.5,261.30 L492.0,261.30 L492.5,261.30 L493.0,261.30 L493.5,261.30 L494.0,261.30 L494.5,261.30 L495.0,261.30 L495.5,261.30 L496.0,261.30 L496.5,261.30 L497.0,261.30 L497.5,261.30 L498.0,261.30 L498.5,261.30 L499.0,261.30 L499.5,261.30 L500.0,261.30 L500.5,261.30 L501.0,261.30 L501.5,261.30 L502.0,261.30 L502.5,261.30 L503.0,261.30 L503.5,261.30 L504.0,261.30 L504.5,261.30 L505.0,261.30 L505.5,261.30 L506.0,261.30 L506.5,261.30 L507.0,261.30 L507.5,261.30 L508.0,261.30 L508.5,261.30 L509.0,261.30 L509.5,261.30 L510.0,261.30 L510.5,261.30 L511.0,261.30 L511.5,261.30" fill="none" stroke="#b4b4b4" stroke-width="1.0" stroke-linejoin="round"/>
<text x="278.95" y="294.25" font-size="5.55" text-anchor="start" font-weight="bold" fill="#111" stroke="#111" stroke-width="0.25" >2D-5-azaC</text>
<text x="377.30" y="279.30" font-size="5.75" text-anchor="start" font-weight="bold" fill="#111" stroke="#111" stroke-width="0.25" >RT: 4.76</text>
<text x="499.50" y="291.20" font-size="5.7" text-anchor="end" font-weight="bold" fill="#111" stroke="#111" stroke-width="0.25" >NL: 3.78E2</text>
<path d="M267.0,299.70 L267.5,299.70 L268.0,299.70 L268.5,299.70 L269.0,299.70 L269.5,299.70 L270.0,299.70 L270.5,299.70 L271.0,299.70 L271.5,299.70 L272.0,299.70 L272.5,299.70 L273.0,299.70 L273.5,299.70 L274.0,299.70 L274.5,299.70 L275.0,299.70 L275.5,299.70 L276.0,299.70 L276.5,299.70 L277.0,299.70 L277.5,299.70 L278.0,299.70 L278.5,299.70 L279.0,299.70 L279.5,299.70 L280.0,299.70 L280.5,299.70 L281.0,299.70 L281.5,299.70 L282.0,299.70 L282.5,299.70 L283.0,299.70 L283.5,299.70 L284.0,299.70 L284.5,299.70 L285.0,299.70 L285.5,299.70 L286.0,299.70 L286.5,299.70 L287.0,299.70 L287.5,299.70 L288.0,299.70 L288.5,299.70 L289.0,299.70 L289.5,299.70 L290.0,299.70 L290.5,299.70 L291.0,299.70 L291.5,299.70 L292.0,299.70 L292.5,299.70 L293.0,299.70 L293.5,299.70 L294.0,299.70 L294.5,299.70 L295.0,299.70 L295.5,299.70 L296.0,299.70 L296.5,299.70 L297.0,299.70 L297.5,299.70 L298.0,299.70 L298.5,299.70 L299.0,299.70 L299.5,299.70 L300.0,299.70 L300.5,299.70 L301.0,299.70 L301.5,299.70 L302.0,299.70 L302.5,299.70 L303.0,299.70 L303.5,299.70 L304.0,299.70 L304.5,299.70 L305.0,299.70 L305.5,299.70 L306.0,299.70 L306.5,299.70 L307.0,299.70 L307.5,299.70 L308.0,299.70 L308.5,299.70 L309.0,299.70 L309.5,299.70 L310.0,299.70 L310.5,299.70 L311.0,299.70 L311.5,299.70 L312.0,299.70 L312.5,299.70 L313.0,299.70 L313.5,299.70 L314.0,299.70 L314.5,299.70 L315.0,299.70 L315.5,299.70 L316.0,299.70 L316.5,299.70 L317.0,299.70 L317.5,299.70 L318.0,299.70 L318.5,299.70 L319.0,299.70 L319.5,299.70 L320.0,299.70 L320.5,299.70 L321.0,299.70 L321.5,299.70 L322.0,299.70 L322.5,299.70 L323.0,299.70 L323.5,299.70 L324.0,299.70 L324.5,299.70 L325.0,299.70 L325.5,299.70 L326.0,299.70 L326.5,299.70 L327.0,299.70 L327.5,299.70 L328.0,299.70 L328.5,299.70 L329.0,299.70 L329.5,299.70 L330.0,299.70 L330.5,299.70 L331.0,299.70 L331.5,299.70 L332.0,299.70 L332.5,299.70 L333.0,299.70 L333.5,299.70 L334.0,299.70 L334.5,299.70 L335.0,299.70 L335.5,299.70 L336.0,299.70 L336.5,299.70 L337.0,299.70 L337.5,299.70 L338.0,299.70 L338.5,299.70 L339.0,299.70 L339.5,299.70 L340.0,299.70 L340.5,299.70 L341.0,299.70 L341.5,299.70 L342.0,299.70 L342.5,299.70 L343.0,299.70 L343.5,299.70 L344.0,299.70 L344.5,299.70 L345.0,299.70 L345.5,299.70 L346.0,299.70 L346.5,299.70 L347.0,299.70 L347.5,299.70 L348.0,299.70 L348.5,299.70 L349.0,299.70 L349.5,299.70 L350.0,299.70 L350.5,299.70 L351.0,299.70 L351.5,299.70 L352.0,299.70 L352.5,299.70 L353.0,299.70 L353.5,299.70 L354.0,299.70 L354.5,299.70 L355.0,299.70 L355.5,299.70 L356.0,299.70 L356.5,299.70 L357.0,299.70 L357.5,299.70 L358.0,299.70 L358.5,299.70 L359.0,299.70 L359.5,299.70 L360.0,299.70 L360.5,299.70 L361.0,299.70 L361.5,299.70 L362.0,299.70 L362.5,299.70 L363.0,299.70 L363.5,299.70 L364.0,299.70 L364.5,299.70 L365.0,299.70 L365.5,299.70 L366.0,299.70 L366.5,299.70 L367.0,299.70 L367.5,299.70 L368.0,299.70 L368.5,299.70 L369.0,299.70 L369.5,299.70 L370.0,299.70 L370.5,299.70 L371.0,299.70 L371.5,299.70 L372.0,299.70 L372.5,299.70 L373.0,299.70 L373.5,299.70 L374.0,299.70 L374.5,299.69 L375.0,299.68 L375.5,299.66 L376.0,299.61 L376.5,299.53 L377.0,299.38 L377.5,299.12 L378.0,298.70 L378.5,298.06 L379.0,297.13 L379.5,295.86 L380.0,294.23 L380.5,292.27 L381.0,290.06 L381.5,287.78 L382.0,285.63 L382.5,283.87 L383.0,282.71 L383.5,282.30 L384.0,282.58 L384.5,283.38 L385.0,284.63 L385.5,286.22 L386.0,288.02 L386.5,289.90 L387.0,291.73 L387.5,293.43 L388.0,294.92 L388.5,296.17 L389.0,297.17 L389.5,297.95 L390.0,298.52 L390.5,298.94 L391.0,299.22 L391.5,299.41 L392.0,299.53 L392.5,299.60 L393.0,299.64 L393.5,299.67 L394.0,299.68 L394.5,299.69 L395.0,299.70 L395.5,299.70 L396.0,299.70 L396.5,299.70 L397.0,299.70 L397.5,299.70 L398.0,299.70 L398.5,299.70 L399.0,299.70 L399.5,299.70 L400.0,299.70 L400.5,299.70 L401.0,299.70 L401.5,299.70 L402.0,299.70 L402.5,299.70 L403.0,299.70 L403.5,299.70 L404.0,299.70 L404.5,299.70 L405.0,299.70 L405.5,299.70 L406.0,299.70 L406.5,299.70 L407.0,299.70 L407.5,299.70 L408.0,299.70 L408.5,299.70 L409.0,299.70 L409.5,299.70 L410.0,299.70 L410.5,299.70 L411.0,299.70 L411.5,299.70 L412.0,299.70 L412.5,299.70 L413.0,299.70 L413.5,299.70 L414.0,299.70 L414.5,299.70 L415.0,299.70 L415.5,299.70 L416.0,299.70 L416.5,299.70 L417.0,299.70 L417.5,299.70 L418.0,299.70 L418.5,299.70 L419.0,299.70 L419.5,299.70 L420.0,299.70 L420.5,299.70 L421.0,299.70 L421.5,299.70 L422.0,299.70 L422.5,299.70 L423.0,299.70 L423.5,299.70 L424.0,299.70 L424.5,299.70 L425.0,299.70 L425.5,299.70 L426.0,299.70 L426.5,299.70 L427.0,299.70 L427.5,299.70 L428.0,299.70 L428.5,299.70 L429.0,299.70 L429.5,299.70 L430.0,299.70 L430.5,299.70 L431.0,299.70 L431.5,299.70 L432.0,299.70 L432.5,299.70 L433.0,299.70 L433.5,299.70 L434.0,299.70 L434.5,299.70 L435.0,299.70 L435.5,299.70 L436.0,299.70 L436.5,299.70 L437.0,299.70 L437.5,299.70 L438.0,299.70 L438.5,299.70 L439.0,299.70 L439.5,299.70 L440.0,299.70 L440.5,299.70 L441.0,299.70 L441.5,299.70 L442.0,299.70 L442.5,299.70 L443.0,299.70 L443.5,299.70 L444.0,299.70 L444.5,299.70 L445.0,299.70 L445.5,299.70 L446.0,299.70 L446.5,299.70 L447.0,299.70 L447.5,299.70 L448.0,299.70 L448.5,299.70 L449.0,299.70 L449.5,299.70 L450.0,299.70 L450.5,299.70 L451.0,299.70 L451.5,299.70 L452.0,299.70 L452.5,299.70 L453.0,299.70 L453.5,299.70 L454.0,299.70 L454.5,299.70 L455.0,299.70 L455.5,299.70 L456.0,299.70 L456.5,299.70 L457.0,299.70 L457.5,299.70 L458.0,299.70 L458.5,299.70 L459.0,299.70 L459.5,299.70 L460.0,299.70 L460.5,299.70 L461.0,299.70 L461.5,299.70 L462.0,299.70 L462.5,299.70 L463.0,299.70 L463.5,299.70 L464.0,299.70 L464.5,299.70 L465.0,299.70 L465.5,299.70 L466.0,299.70 L466.5,299.70 L467.0,299.70 L467.5,299.70 L468.0,299.70 L468.5,299.70 L469.0,299.70 L469.5,299.70 L470.0,299.70 L470.5,299.70 L471.0,299.70 L471.5,299.70 L472.0,299.70 L472.5,299.70 L473.0,299.70 L473.5,299.70 L474.0,299.70 L474.5,299.70 L475.0,299.70 L475.5,299.70 L476.0,299.70 L476.5,299.70 L477.0,299.70 L477.5,299.70 L478.0,299.70 L478.5,299.70 L479.0,299.70 L479.5,299.70 L480.0,299.70 L480.5,299.70 L481.0,299.70 L481.5,299.70 L482.0,299.70 L482.5,299.70 L483.0,299.70 L483.5,299.70 L484.0,299.70 L484.5,299.70 L485.0,299.70 L485.5,299.70 L486.0,299.70 L486.5,299.70 L487.0,299.70 L487.5,299.70 L488.0,299.70 L488.5,299.70 L489.0,299.70 L489.5,299.70 L490.0,299.70 L490.5,299.70 L491.0,299.70 L491.5,299.70 L492.0,299.70 L492.5,299.70 L493.0,299.70 L493.5,299.70 L494.0,299.70 L494.5,299.70 L495.0,299.70 L495.5,299.70 L496.0,299.70 L496.5,299.70 L497.0,299.70 L497.5,299.70 L498.0,299.70 L498.5,299.70 L499.0,299.70 L499.5,299.70 L500.0,299.70 L500.5,299.70 L501.0,299.70 L501.5,299.70 L502.0,299.70 L502.5,299.70 L503.0,299.70 L503.5,299.70 L504.0,299.70 L504.5,299.70 L505.0,299.70 L505.5,299.70 L506.0,299.70 L506.5,299.70 L507.0,299.70 L507.5,299.70 L508.0,299.70 L508.5,299.70 L509.0,299.70 L509.5,299.70 L510.0,299.70 L510.5,299.70 L511.0,299.70 L511.5,299.70" fill="none" stroke="#b4b4b4" stroke-width="1.0" stroke-linejoin="round"/>
<line x1="266.7" y1="304.5" x2="511.5" y2="304.5" stroke="#b4b4b4" stroke-width="1.0"/>
<line x1="267.30" y1="304.5" x2="267.30" y2="305.7" stroke="#b4b4b4" stroke-width="0.9"/>
<text x="265.05" y="312.20" font-size="5.5" text-anchor="start" font-weight="bold" fill="#111" stroke="#111" stroke-width="0.25" >0.0</text>
<line x1="291.72" y1="304.5" x2="291.72" y2="305.7" stroke="#b4b4b4" stroke-width="0.9"/>
<text x="289.47" y="312.20" font-size="5.5" text-anchor="start" font-weight="bold" fill="#111" stroke="#111" stroke-width="0.25" >1.0</text>
<line x1="316.14" y1="304.5" x2="316.14" y2="305.7" stroke="#b4b4b4" stroke-width="0.9"/>
<text x="313.89" y="312.20" font-size="5.5" text-anchor="start" font-weight="bold" fill="#111" stroke="#111" stroke-width="0.25" >2.0</text>
<line x1="340.56" y1="304.5" x2="340.56" y2="305.7" stroke="#b4b4b4" stroke-width="0.9"/>
<text x="338.31" y="312.20" font-size="5.5" text-anchor="start" font-weight="bold" fill="#111" stroke="#111" stroke-width="0.25" >3.0</text>
<line x1="364.98" y1="304.5" x2="364.98" y2="305.7" stroke="#b4b4b4" stroke-width="0.9"/>
<text x="362.73" y="312.20" font-size="5.5" text-anchor="start" font-weight="bold" fill="#111" stroke="#111" stroke-width="0.25" >4.0</text>
<line x1="389.40" y1="304.5" x2="389.40" y2="305.7" stroke="#b4b4b4" stroke-width="0.9"/>
<text x="387.15" y="312.20" font-size="5.5" text-anchor="start" font-weight="bold" fill="#111" stroke="#111" stroke-width="0.25" >5.0</text>
<line x1="413.82" y1="304.5" x2="413.82" y2="305.7" stroke="#b4b4b4" stroke-width="0.9"/>
<text x="411.57" y="312.20" font-size="5.5" text-anchor="start" font-weight="bold" fill="#111" stroke="#111" stroke-width="0.25" >6.0</text>
<line x1="438.24" y1="304.5" x2="438.24" y2="305.7" stroke="#b4b4b4" stroke-width="0.9"/>
<text x="435.99" y="312.20" font-size="5.5" text-anchor="start" font-weight="bold" fill="#111" stroke="#111" stroke-width="0.25" >7.0</text>
<line x1="462.66" y1="304.5" x2="462.66" y2="305.7" stroke="#b4b4b4" stroke-width="0.9"/>
<text x="460.41" y="312.20" font-size="5.5" text-anchor="start" font-weight="bold" fill="#111" stroke="#111" stroke-width="0.25" >8.0</text>
<line x1="487.08" y1="304.5" x2="487.08" y2="305.7" stroke="#b4b4b4" stroke-width="0.9"/>
<text x="484.83" y="312.20" font-size="5.5" text-anchor="start" font-weight="bold" fill="#111" stroke="#111" stroke-width="0.25" >9.0</text>
<line x1="511.50" y1="304.5" x2="511.50" y2="305.7" stroke="#b4b4b4" stroke-width="0.9"/>
<text x="508.95" y="312.20" font-size="5.5" text-anchor="start" font-weight="bold" fill="#111" stroke="#111" stroke-width="0.25" >10.0</text>
<text x="382.70" y="320.80" font-size="5.7" text-anchor="start" font-weight="bold" fill="#111" stroke="#111" stroke-width="0.25" >Time (min)</text>
</svg>
</body></html>
